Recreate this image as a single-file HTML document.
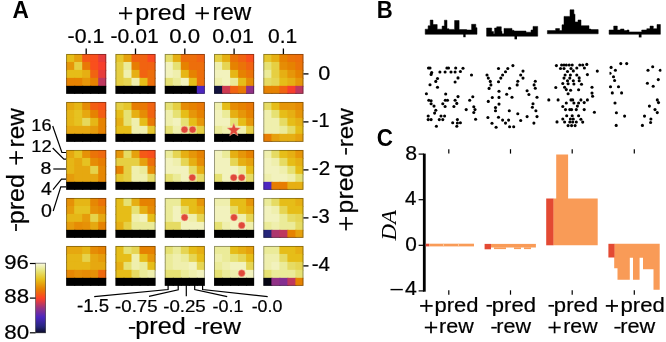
<!DOCTYPE html>
<html><head><meta charset="utf-8"><style>html,body{margin:0;padding:0;background:#fff;width:666px;height:342px;overflow:hidden}svg{display:block;will-change:transform}</style></head>
<body>
<svg width="666" height="342" viewBox="0 0 666 342" shape-rendering="auto">
<rect width="666" height="342" fill="#fff"/>
<rect x="66.20" y="54.00" width="9.00" height="8.96" fill="#e6bd18"/>
<rect x="74.20" y="54.00" width="9.00" height="8.96" fill="#e6a10d"/>
<rect x="82.20" y="54.00" width="9.00" height="8.96" fill="#f55917"/>
<rect x="90.20" y="54.00" width="9.00" height="8.96" fill="#f94f1d"/>
<rect x="98.20" y="54.00" width="8.00" height="8.96" fill="#e73d3c"/>
<rect x="66.20" y="61.96" width="9.00" height="8.96" fill="#e69609"/>
<rect x="74.20" y="61.96" width="9.00" height="8.96" fill="#e6cf42"/>
<rect x="82.20" y="61.96" width="9.00" height="8.96" fill="#e97805"/>
<rect x="90.20" y="61.96" width="9.00" height="8.96" fill="#f94f1d"/>
<rect x="98.20" y="61.96" width="8.00" height="8.96" fill="#f73f2d"/>
<rect x="66.20" y="69.92" width="9.00" height="8.96" fill="#e6bd18"/>
<rect x="74.20" y="69.92" width="9.00" height="8.96" fill="#e6bd18"/>
<rect x="82.20" y="69.92" width="9.00" height="8.96" fill="#e6af13"/>
<rect x="90.20" y="69.92" width="9.00" height="8.96" fill="#f16311"/>
<rect x="98.20" y="69.92" width="8.00" height="8.96" fill="#e73d3c"/>
<rect x="66.20" y="77.88" width="9.00" height="8.96" fill="#e68201"/>
<rect x="74.20" y="77.88" width="9.00" height="8.96" fill="#e68201"/>
<rect x="82.20" y="77.88" width="9.00" height="8.96" fill="#e69609"/>
<rect x="90.20" y="77.88" width="9.00" height="8.96" fill="#e68201"/>
<rect x="98.20" y="77.88" width="8.00" height="8.96" fill="#be385f"/>
<rect x="66.20" y="85.84" width="9.00" height="7.96" fill="#000"/>
<rect x="74.20" y="85.84" width="9.00" height="7.96" fill="#000"/>
<rect x="82.20" y="85.84" width="9.00" height="7.96" fill="#000"/>
<rect x="90.20" y="85.84" width="9.00" height="7.96" fill="#000"/>
<rect x="98.20" y="85.84" width="8.00" height="7.96" fill="#000"/>
<rect x="66.60" y="54.40" width="39.20" height="39.00" fill="none" stroke="#000" stroke-opacity="0.4" stroke-width="0.9"/>
<rect x="115.50" y="54.00" width="9.00" height="8.96" fill="#e6c62c"/>
<rect x="123.50" y="54.00" width="9.00" height="8.96" fill="#e6a10d"/>
<rect x="131.50" y="54.00" width="9.00" height="8.96" fill="#f16311"/>
<rect x="139.50" y="54.00" width="9.00" height="8.96" fill="#f16311"/>
<rect x="147.50" y="54.00" width="8.00" height="8.96" fill="#fb4a20"/>
<rect x="115.50" y="61.96" width="9.00" height="8.96" fill="#e6cf42"/>
<rect x="123.50" y="61.96" width="9.00" height="8.96" fill="#ebeb99"/>
<rect x="131.50" y="61.96" width="9.00" height="8.96" fill="#e77d02"/>
<rect x="139.50" y="61.96" width="9.00" height="8.96" fill="#f16311"/>
<rect x="147.50" y="61.96" width="8.00" height="8.96" fill="#f16311"/>
<rect x="115.50" y="69.92" width="9.00" height="8.96" fill="#e6cf42"/>
<rect x="123.50" y="69.92" width="9.00" height="8.96" fill="#efefad"/>
<rect x="131.50" y="69.92" width="9.00" height="8.96" fill="#e6af13"/>
<rect x="139.50" y="69.92" width="9.00" height="8.96" fill="#f16311"/>
<rect x="147.50" y="69.92" width="8.00" height="8.96" fill="#ed6e0b"/>
<rect x="115.50" y="77.88" width="9.00" height="8.96" fill="#e6cf42"/>
<rect x="123.50" y="77.88" width="9.00" height="8.96" fill="#e6d553"/>
<rect x="131.50" y="77.88" width="9.00" height="8.96" fill="#efefad"/>
<rect x="139.50" y="77.88" width="9.00" height="8.96" fill="#e6bd18"/>
<rect x="147.50" y="77.88" width="8.00" height="8.96" fill="#ed6e0b"/>
<rect x="115.50" y="85.84" width="9.00" height="7.96" fill="#000"/>
<rect x="123.50" y="85.84" width="9.00" height="7.96" fill="#000"/>
<rect x="131.50" y="85.84" width="9.00" height="7.96" fill="#000"/>
<rect x="139.50" y="85.84" width="9.00" height="7.96" fill="#000"/>
<rect x="147.50" y="85.84" width="8.00" height="7.96" fill="#000"/>
<rect x="115.90" y="54.40" width="39.20" height="39.00" fill="none" stroke="#000" stroke-opacity="0.4" stroke-width="0.9"/>
<rect x="164.80" y="54.00" width="9.00" height="8.96" fill="#e6de6b"/>
<rect x="172.80" y="54.00" width="9.00" height="8.96" fill="#e6af13"/>
<rect x="180.80" y="54.00" width="9.00" height="8.96" fill="#ed6e0b"/>
<rect x="188.80" y="54.00" width="9.00" height="8.96" fill="#ed6e0b"/>
<rect x="196.80" y="54.00" width="8.00" height="8.96" fill="#f16311"/>
<rect x="164.80" y="61.96" width="9.00" height="8.96" fill="#f2f2bd"/>
<rect x="172.80" y="61.96" width="9.00" height="8.96" fill="#e6e173"/>
<rect x="180.80" y="61.96" width="9.00" height="8.96" fill="#e68201"/>
<rect x="188.80" y="61.96" width="9.00" height="8.96" fill="#ed6e0b"/>
<rect x="196.80" y="61.96" width="8.00" height="8.96" fill="#ed6e0b"/>
<rect x="164.80" y="69.92" width="9.00" height="8.96" fill="#f2f2bd"/>
<rect x="172.80" y="69.92" width="9.00" height="8.96" fill="#efefad"/>
<rect x="180.80" y="69.92" width="9.00" height="8.96" fill="#e6b616"/>
<rect x="188.80" y="69.92" width="9.00" height="8.96" fill="#e68201"/>
<rect x="196.80" y="69.92" width="8.00" height="8.96" fill="#ed6e0b"/>
<rect x="164.80" y="77.88" width="9.00" height="8.96" fill="#e6e173"/>
<rect x="172.80" y="77.88" width="9.00" height="8.96" fill="#ebeb99"/>
<rect x="180.80" y="77.88" width="9.00" height="8.96" fill="#f2f2bd"/>
<rect x="188.80" y="77.88" width="9.00" height="8.96" fill="#e6bd18"/>
<rect x="196.80" y="77.88" width="8.00" height="8.96" fill="#ed6e0b"/>
<rect x="164.80" y="85.84" width="9.00" height="7.96" fill="#000"/>
<rect x="172.80" y="85.84" width="9.00" height="7.96" fill="#000"/>
<rect x="180.80" y="85.84" width="9.00" height="7.96" fill="#000"/>
<rect x="188.80" y="85.84" width="9.00" height="7.96" fill="#000"/>
<rect x="196.80" y="85.84" width="8.00" height="7.96" fill="#4c26bf"/>
<rect x="165.20" y="54.40" width="39.20" height="39.00" fill="none" stroke="#000" stroke-opacity="0.4" stroke-width="0.9"/>
<rect x="214.10" y="54.00" width="9.00" height="8.96" fill="#e6cf42"/>
<rect x="222.10" y="54.00" width="9.00" height="8.96" fill="#e6af13"/>
<rect x="230.10" y="54.00" width="9.00" height="8.96" fill="#eb7308"/>
<rect x="238.10" y="54.00" width="9.00" height="8.96" fill="#f16311"/>
<rect x="246.10" y="54.00" width="8.00" height="8.96" fill="#f94f1d"/>
<rect x="214.10" y="61.96" width="9.00" height="8.96" fill="#efefad"/>
<rect x="222.10" y="61.96" width="9.00" height="8.96" fill="#e6d553"/>
<rect x="230.10" y="61.96" width="9.00" height="8.96" fill="#e68201"/>
<rect x="238.10" y="61.96" width="9.00" height="8.96" fill="#eb7308"/>
<rect x="246.10" y="61.96" width="8.00" height="8.96" fill="#f16311"/>
<rect x="214.10" y="69.92" width="9.00" height="8.96" fill="#f2f2bd"/>
<rect x="222.10" y="69.92" width="9.00" height="8.96" fill="#f2f2bd"/>
<rect x="230.10" y="69.92" width="9.00" height="8.96" fill="#e6b616"/>
<rect x="238.10" y="69.92" width="9.00" height="8.96" fill="#e68201"/>
<rect x="246.10" y="69.92" width="8.00" height="8.96" fill="#eb7308"/>
<rect x="214.10" y="77.88" width="9.00" height="8.96" fill="#efefad"/>
<rect x="222.10" y="77.88" width="9.00" height="8.96" fill="#f2f2bd"/>
<rect x="230.10" y="77.88" width="9.00" height="8.96" fill="#ebeb99"/>
<rect x="238.10" y="77.88" width="9.00" height="8.96" fill="#e6bd18"/>
<rect x="246.10" y="77.88" width="8.00" height="8.96" fill="#e68c05"/>
<rect x="214.10" y="85.84" width="9.00" height="7.96" fill="#12123d"/>
<rect x="222.10" y="85.84" width="9.00" height="7.96" fill="#ce3a51"/>
<rect x="230.10" y="85.84" width="9.00" height="7.96" fill="#f16311"/>
<rect x="238.10" y="85.84" width="9.00" height="7.96" fill="#e97805"/>
<rect x="246.10" y="85.84" width="8.00" height="7.96" fill="#903187"/>
<rect x="214.50" y="54.40" width="39.20" height="39.00" fill="none" stroke="#000" stroke-opacity="0.4" stroke-width="0.9"/>
<rect x="263.40" y="54.00" width="9.00" height="8.96" fill="#e6c62c"/>
<rect x="271.40" y="54.00" width="9.00" height="8.96" fill="#e6af13"/>
<rect x="279.40" y="54.00" width="9.00" height="8.96" fill="#e68201"/>
<rect x="287.40" y="54.00" width="9.00" height="8.96" fill="#eb7308"/>
<rect x="295.40" y="54.00" width="8.00" height="8.96" fill="#ed6e0b"/>
<rect x="263.40" y="61.96" width="9.00" height="8.96" fill="#e6e173"/>
<rect x="271.40" y="61.96" width="9.00" height="8.96" fill="#e6cf42"/>
<rect x="279.40" y="61.96" width="9.00" height="8.96" fill="#e68c05"/>
<rect x="287.40" y="61.96" width="9.00" height="8.96" fill="#e68201"/>
<rect x="295.40" y="61.96" width="8.00" height="8.96" fill="#eb7308"/>
<rect x="263.40" y="69.92" width="9.00" height="8.96" fill="#ebeb99"/>
<rect x="271.40" y="69.92" width="9.00" height="8.96" fill="#e6cf42"/>
<rect x="279.40" y="69.92" width="9.00" height="8.96" fill="#e6af13"/>
<rect x="287.40" y="69.92" width="9.00" height="8.96" fill="#e69609"/>
<rect x="295.40" y="69.92" width="8.00" height="8.96" fill="#e68201"/>
<rect x="263.40" y="77.88" width="9.00" height="8.96" fill="#e6db63"/>
<rect x="271.40" y="77.88" width="9.00" height="8.96" fill="#e6d553"/>
<rect x="279.40" y="77.88" width="9.00" height="8.96" fill="#e6bd18"/>
<rect x="287.40" y="77.88" width="9.00" height="8.96" fill="#e6af13"/>
<rect x="295.40" y="77.88" width="8.00" height="8.96" fill="#e69609"/>
<rect x="263.40" y="85.84" width="9.00" height="7.96" fill="#e68201"/>
<rect x="271.40" y="85.84" width="9.00" height="7.96" fill="#e68201"/>
<rect x="279.40" y="85.84" width="9.00" height="7.96" fill="#f16311"/>
<rect x="287.40" y="85.84" width="9.00" height="7.96" fill="#f73f2d"/>
<rect x="295.40" y="85.84" width="8.00" height="7.96" fill="#be385f"/>
<rect x="263.80" y="54.40" width="39.20" height="39.00" fill="none" stroke="#000" stroke-opacity="0.4" stroke-width="0.9"/>
<rect x="66.20" y="102.00" width="9.00" height="8.96" fill="#e6a810"/>
<rect x="74.20" y="102.00" width="9.00" height="8.96" fill="#e6b616"/>
<rect x="82.20" y="102.00" width="9.00" height="8.96" fill="#e68c05"/>
<rect x="90.20" y="102.00" width="9.00" height="8.96" fill="#f35e14"/>
<rect x="98.20" y="102.00" width="8.00" height="8.96" fill="#f7541a"/>
<rect x="66.20" y="109.96" width="9.00" height="8.96" fill="#e6b616"/>
<rect x="74.20" y="109.96" width="9.00" height="8.96" fill="#e6c221"/>
<rect x="82.20" y="109.96" width="9.00" height="8.96" fill="#e6a810"/>
<rect x="90.20" y="109.96" width="9.00" height="8.96" fill="#e68201"/>
<rect x="98.20" y="109.96" width="8.00" height="8.96" fill="#f35e14"/>
<rect x="66.20" y="117.92" width="9.00" height="8.96" fill="#e6b616"/>
<rect x="74.20" y="117.92" width="9.00" height="8.96" fill="#e6c221"/>
<rect x="82.20" y="117.92" width="9.00" height="8.96" fill="#e6d85b"/>
<rect x="90.20" y="117.92" width="9.00" height="8.96" fill="#e6b616"/>
<rect x="98.20" y="117.92" width="8.00" height="8.96" fill="#e68201"/>
<rect x="66.20" y="125.88" width="9.00" height="8.96" fill="#e6a810"/>
<rect x="74.20" y="125.88" width="9.00" height="8.96" fill="#e6a810"/>
<rect x="82.20" y="125.88" width="9.00" height="8.96" fill="#e6a810"/>
<rect x="90.20" y="125.88" width="9.00" height="8.96" fill="#e69c0b"/>
<rect x="98.20" y="125.88" width="8.00" height="8.96" fill="#e68201"/>
<rect x="66.20" y="133.84" width="9.00" height="7.96" fill="#000"/>
<rect x="74.20" y="133.84" width="9.00" height="7.96" fill="#000"/>
<rect x="82.20" y="133.84" width="9.00" height="7.96" fill="#000"/>
<rect x="90.20" y="133.84" width="9.00" height="7.96" fill="#000"/>
<rect x="98.20" y="133.84" width="8.00" height="7.96" fill="#000"/>
<rect x="66.60" y="102.40" width="39.20" height="39.00" fill="none" stroke="#000" stroke-opacity="0.4" stroke-width="0.9"/>
<rect x="115.50" y="102.00" width="9.00" height="8.96" fill="#e6cf42"/>
<rect x="123.50" y="102.00" width="9.00" height="8.96" fill="#e6c62c"/>
<rect x="131.50" y="102.00" width="9.00" height="8.96" fill="#e77d02"/>
<rect x="139.50" y="102.00" width="9.00" height="8.96" fill="#e97805"/>
<rect x="147.50" y="102.00" width="8.00" height="8.96" fill="#f16311"/>
<rect x="115.50" y="109.96" width="9.00" height="8.96" fill="#e6bd18"/>
<rect x="123.50" y="109.96" width="9.00" height="8.96" fill="#e6e173"/>
<rect x="131.50" y="109.96" width="9.00" height="8.96" fill="#e6af13"/>
<rect x="139.50" y="109.96" width="9.00" height="8.96" fill="#e68c05"/>
<rect x="147.50" y="109.96" width="8.00" height="8.96" fill="#f16311"/>
<rect x="115.50" y="117.92" width="9.00" height="8.96" fill="#e6af13"/>
<rect x="123.50" y="117.92" width="9.00" height="8.96" fill="#e6e173"/>
<rect x="131.50" y="117.92" width="9.00" height="8.96" fill="#efefad"/>
<rect x="139.50" y="117.92" width="9.00" height="8.96" fill="#e6bd18"/>
<rect x="147.50" y="117.92" width="8.00" height="8.96" fill="#e97805"/>
<rect x="115.50" y="125.88" width="9.00" height="8.96" fill="#e6bd18"/>
<rect x="123.50" y="125.88" width="9.00" height="8.96" fill="#e6bd18"/>
<rect x="131.50" y="125.88" width="9.00" height="8.96" fill="#efefad"/>
<rect x="139.50" y="125.88" width="9.00" height="8.96" fill="#efefad"/>
<rect x="147.50" y="125.88" width="8.00" height="8.96" fill="#e6c62c"/>
<rect x="115.50" y="133.84" width="9.00" height="7.96" fill="#000"/>
<rect x="123.50" y="133.84" width="9.00" height="7.96" fill="#000"/>
<rect x="131.50" y="133.84" width="9.00" height="7.96" fill="#000"/>
<rect x="139.50" y="133.84" width="9.00" height="7.96" fill="#000"/>
<rect x="147.50" y="133.84" width="8.00" height="7.96" fill="#000"/>
<rect x="115.90" y="102.40" width="39.20" height="39.00" fill="none" stroke="#000" stroke-opacity="0.4" stroke-width="0.9"/>
<rect x="164.80" y="102.00" width="9.00" height="8.96" fill="#e6e173"/>
<rect x="172.80" y="102.00" width="9.00" height="8.96" fill="#e6cf42"/>
<rect x="180.80" y="102.00" width="9.00" height="8.96" fill="#e68c05"/>
<rect x="188.80" y="102.00" width="9.00" height="8.96" fill="#e68201"/>
<rect x="196.80" y="102.00" width="8.00" height="8.96" fill="#e97805"/>
<rect x="164.80" y="109.96" width="9.00" height="8.96" fill="#efefad"/>
<rect x="172.80" y="109.96" width="9.00" height="8.96" fill="#e6e173"/>
<rect x="180.80" y="109.96" width="9.00" height="8.96" fill="#e6bd18"/>
<rect x="188.80" y="109.96" width="9.00" height="8.96" fill="#e69609"/>
<rect x="196.80" y="109.96" width="8.00" height="8.96" fill="#e68201"/>
<rect x="164.80" y="117.92" width="9.00" height="8.96" fill="#efefad"/>
<rect x="172.80" y="117.92" width="9.00" height="8.96" fill="#f2f2bd"/>
<rect x="180.80" y="117.92" width="9.00" height="8.96" fill="#e6e173"/>
<rect x="188.80" y="117.92" width="9.00" height="8.96" fill="#e6bd18"/>
<rect x="196.80" y="117.92" width="8.00" height="8.96" fill="#e69609"/>
<rect x="164.80" y="125.88" width="9.00" height="8.96" fill="#e6e173"/>
<rect x="172.80" y="125.88" width="9.00" height="8.96" fill="#efefad"/>
<rect x="180.80" y="125.88" width="9.00" height="8.96" fill="#ebeb99"/>
<rect x="188.80" y="125.88" width="9.00" height="8.96" fill="#e6e173"/>
<rect x="196.80" y="125.88" width="8.00" height="8.96" fill="#e6cf42"/>
<rect x="164.80" y="133.84" width="9.00" height="7.96" fill="#000"/>
<rect x="172.80" y="133.84" width="9.00" height="7.96" fill="#000"/>
<rect x="180.80" y="133.84" width="9.00" height="7.96" fill="#000"/>
<rect x="188.80" y="133.84" width="9.00" height="7.96" fill="#000"/>
<rect x="196.80" y="133.84" width="8.00" height="7.96" fill="#000"/>
<rect x="165.20" y="102.40" width="39.20" height="39.00" fill="none" stroke="#000" stroke-opacity="0.4" stroke-width="0.9"/>
<rect x="214.10" y="102.00" width="9.00" height="8.96" fill="#efefad"/>
<rect x="222.10" y="102.00" width="9.00" height="8.96" fill="#e6bd18"/>
<rect x="230.10" y="102.00" width="9.00" height="8.96" fill="#e68c05"/>
<rect x="238.10" y="102.00" width="9.00" height="8.96" fill="#e68201"/>
<rect x="246.10" y="102.00" width="8.00" height="8.96" fill="#e97805"/>
<rect x="214.10" y="109.96" width="9.00" height="8.96" fill="#f2f2bd"/>
<rect x="222.10" y="109.96" width="9.00" height="8.96" fill="#ebeb99"/>
<rect x="230.10" y="109.96" width="9.00" height="8.96" fill="#e6af13"/>
<rect x="238.10" y="109.96" width="9.00" height="8.96" fill="#e69609"/>
<rect x="246.10" y="109.96" width="8.00" height="8.96" fill="#e68201"/>
<rect x="214.10" y="117.92" width="9.00" height="8.96" fill="#f2f2bd"/>
<rect x="222.10" y="117.92" width="9.00" height="8.96" fill="#f2f2bd"/>
<rect x="230.10" y="117.92" width="9.00" height="8.96" fill="#e6e173"/>
<rect x="238.10" y="117.92" width="9.00" height="8.96" fill="#e6bd18"/>
<rect x="246.10" y="117.92" width="8.00" height="8.96" fill="#e69609"/>
<rect x="214.10" y="125.88" width="9.00" height="8.96" fill="#ebeb99"/>
<rect x="222.10" y="125.88" width="9.00" height="8.96" fill="#efefad"/>
<rect x="230.10" y="125.88" width="9.00" height="8.96" fill="#efefad"/>
<rect x="238.10" y="125.88" width="9.00" height="8.96" fill="#efefad"/>
<rect x="246.10" y="125.88" width="8.00" height="8.96" fill="#e6cf42"/>
<rect x="214.10" y="133.84" width="9.00" height="7.96" fill="#000"/>
<rect x="222.10" y="133.84" width="9.00" height="7.96" fill="#000"/>
<rect x="230.10" y="133.84" width="9.00" height="7.96" fill="#000"/>
<rect x="238.10" y="133.84" width="9.00" height="7.96" fill="#000"/>
<rect x="246.10" y="133.84" width="8.00" height="7.96" fill="#000"/>
<rect x="214.50" y="102.40" width="39.20" height="39.00" fill="none" stroke="#000" stroke-opacity="0.4" stroke-width="0.9"/>
<rect x="263.40" y="102.00" width="9.00" height="8.96" fill="#e6db63"/>
<rect x="271.40" y="102.00" width="9.00" height="8.96" fill="#e6bd18"/>
<rect x="279.40" y="102.00" width="9.00" height="8.96" fill="#e69609"/>
<rect x="287.40" y="102.00" width="9.00" height="8.96" fill="#e69609"/>
<rect x="295.40" y="102.00" width="8.00" height="8.96" fill="#e68c05"/>
<rect x="263.40" y="109.96" width="9.00" height="8.96" fill="#efefad"/>
<rect x="271.40" y="109.96" width="9.00" height="8.96" fill="#e6e173"/>
<rect x="279.40" y="109.96" width="9.00" height="8.96" fill="#e6bd18"/>
<rect x="287.40" y="109.96" width="9.00" height="8.96" fill="#e6af13"/>
<rect x="295.40" y="109.96" width="8.00" height="8.96" fill="#e69609"/>
<rect x="263.40" y="117.92" width="9.00" height="8.96" fill="#efefad"/>
<rect x="271.40" y="117.92" width="9.00" height="8.96" fill="#efefad"/>
<rect x="279.40" y="117.92" width="9.00" height="8.96" fill="#e6db63"/>
<rect x="287.40" y="117.92" width="9.00" height="8.96" fill="#e6bd18"/>
<rect x="295.40" y="117.92" width="8.00" height="8.96" fill="#e6af13"/>
<rect x="263.40" y="125.88" width="9.00" height="8.96" fill="#efefad"/>
<rect x="271.40" y="125.88" width="9.00" height="8.96" fill="#efefad"/>
<rect x="279.40" y="125.88" width="9.00" height="8.96" fill="#ebeb99"/>
<rect x="287.40" y="125.88" width="9.00" height="8.96" fill="#e6db63"/>
<rect x="295.40" y="125.88" width="8.00" height="8.96" fill="#e6bd18"/>
<rect x="263.40" y="133.84" width="9.00" height="7.96" fill="#e77d02"/>
<rect x="271.40" y="133.84" width="9.00" height="7.96" fill="#e6a10d"/>
<rect x="279.40" y="133.84" width="9.00" height="7.96" fill="#e6af13"/>
<rect x="287.40" y="133.84" width="9.00" height="7.96" fill="#e6af13"/>
<rect x="295.40" y="133.84" width="8.00" height="7.96" fill="#e6a10d"/>
<rect x="263.80" y="102.40" width="39.20" height="39.00" fill="none" stroke="#000" stroke-opacity="0.4" stroke-width="0.9"/>
<rect x="66.20" y="150.00" width="9.00" height="8.96" fill="#e6a810"/>
<rect x="74.20" y="150.00" width="9.00" height="8.96" fill="#e6c221"/>
<rect x="82.20" y="150.00" width="9.00" height="8.96" fill="#e69107"/>
<rect x="90.20" y="150.00" width="9.00" height="8.96" fill="#eb7308"/>
<rect x="98.20" y="150.00" width="8.00" height="8.96" fill="#ef690e"/>
<rect x="66.20" y="157.96" width="9.00" height="8.96" fill="#e6b616"/>
<rect x="74.20" y="157.96" width="9.00" height="8.96" fill="#e6a810"/>
<rect x="82.20" y="157.96" width="9.00" height="8.96" fill="#e6c221"/>
<rect x="90.20" y="157.96" width="9.00" height="8.96" fill="#e68c05"/>
<rect x="98.20" y="157.96" width="8.00" height="8.96" fill="#e77d02"/>
<rect x="66.20" y="165.92" width="9.00" height="8.96" fill="#e6b616"/>
<rect x="74.20" y="165.92" width="9.00" height="8.96" fill="#e6a810"/>
<rect x="82.20" y="165.92" width="9.00" height="8.96" fill="#e6a810"/>
<rect x="90.20" y="165.92" width="9.00" height="8.96" fill="#e6d24a"/>
<rect x="98.20" y="165.92" width="8.00" height="8.96" fill="#e68703"/>
<rect x="66.20" y="173.88" width="9.00" height="8.96" fill="#e69c0b"/>
<rect x="74.20" y="173.88" width="9.00" height="8.96" fill="#e6a810"/>
<rect x="82.20" y="173.88" width="9.00" height="8.96" fill="#e6a810"/>
<rect x="90.20" y="173.88" width="9.00" height="8.96" fill="#e6a810"/>
<rect x="98.20" y="173.88" width="8.00" height="8.96" fill="#e68703"/>
<rect x="66.20" y="181.84" width="9.00" height="7.96" fill="#000"/>
<rect x="74.20" y="181.84" width="9.00" height="7.96" fill="#000"/>
<rect x="82.20" y="181.84" width="9.00" height="7.96" fill="#000"/>
<rect x="90.20" y="181.84" width="9.00" height="7.96" fill="#000"/>
<rect x="98.20" y="181.84" width="8.00" height="7.96" fill="#000"/>
<rect x="66.60" y="150.40" width="39.20" height="39.00" fill="none" stroke="#000" stroke-opacity="0.4" stroke-width="0.9"/>
<rect x="115.50" y="150.00" width="9.00" height="8.96" fill="#e69609"/>
<rect x="123.50" y="150.00" width="9.00" height="8.96" fill="#e6db63"/>
<rect x="131.50" y="150.00" width="9.00" height="8.96" fill="#e6a10d"/>
<rect x="139.50" y="150.00" width="9.00" height="8.96" fill="#f55917"/>
<rect x="147.50" y="150.00" width="8.00" height="8.96" fill="#f94f1d"/>
<rect x="115.50" y="157.96" width="9.00" height="8.96" fill="#e6cf42"/>
<rect x="123.50" y="157.96" width="9.00" height="8.96" fill="#e6cf42"/>
<rect x="131.50" y="157.96" width="9.00" height="8.96" fill="#e6cf42"/>
<rect x="139.50" y="157.96" width="9.00" height="8.96" fill="#e6a10d"/>
<rect x="147.50" y="157.96" width="8.00" height="8.96" fill="#ed6e0b"/>
<rect x="115.50" y="165.92" width="9.00" height="8.96" fill="#e68201"/>
<rect x="123.50" y="165.92" width="9.00" height="8.96" fill="#e6cf42"/>
<rect x="131.50" y="165.92" width="9.00" height="8.96" fill="#efefad"/>
<rect x="139.50" y="165.92" width="9.00" height="8.96" fill="#ebeb99"/>
<rect x="147.50" y="165.92" width="8.00" height="8.96" fill="#e68c05"/>
<rect x="115.50" y="173.88" width="9.00" height="8.96" fill="#e6c62c"/>
<rect x="123.50" y="173.88" width="9.00" height="8.96" fill="#e6cf42"/>
<rect x="131.50" y="173.88" width="9.00" height="8.96" fill="#efefad"/>
<rect x="139.50" y="173.88" width="9.00" height="8.96" fill="#efefad"/>
<rect x="147.50" y="173.88" width="8.00" height="8.96" fill="#e6db63"/>
<rect x="115.50" y="181.84" width="9.00" height="7.96" fill="#000"/>
<rect x="123.50" y="181.84" width="9.00" height="7.96" fill="#000"/>
<rect x="131.50" y="181.84" width="9.00" height="7.96" fill="#000"/>
<rect x="139.50" y="181.84" width="9.00" height="7.96" fill="#000"/>
<rect x="147.50" y="181.84" width="8.00" height="7.96" fill="#000"/>
<rect x="115.90" y="150.40" width="39.20" height="39.00" fill="none" stroke="#000" stroke-opacity="0.4" stroke-width="0.9"/>
<rect x="164.80" y="150.00" width="9.00" height="8.96" fill="#ebeb99"/>
<rect x="172.80" y="150.00" width="9.00" height="8.96" fill="#e6d553"/>
<rect x="180.80" y="150.00" width="9.00" height="8.96" fill="#e6af13"/>
<rect x="188.80" y="150.00" width="9.00" height="8.96" fill="#e69609"/>
<rect x="196.80" y="150.00" width="8.00" height="8.96" fill="#e68201"/>
<rect x="164.80" y="157.96" width="9.00" height="8.96" fill="#f2f2bd"/>
<rect x="172.80" y="157.96" width="9.00" height="8.96" fill="#efefad"/>
<rect x="180.80" y="157.96" width="9.00" height="8.96" fill="#e6d553"/>
<rect x="188.80" y="157.96" width="9.00" height="8.96" fill="#e6af13"/>
<rect x="196.80" y="157.96" width="8.00" height="8.96" fill="#e68c05"/>
<rect x="164.80" y="165.92" width="9.00" height="8.96" fill="#f2f2bd"/>
<rect x="172.80" y="165.92" width="9.00" height="8.96" fill="#f2f2bd"/>
<rect x="180.80" y="165.92" width="9.00" height="8.96" fill="#f2f2bd"/>
<rect x="188.80" y="165.92" width="9.00" height="8.96" fill="#e6db63"/>
<rect x="196.80" y="165.92" width="8.00" height="8.96" fill="#e6af13"/>
<rect x="164.80" y="173.88" width="9.00" height="8.96" fill="#e6e173"/>
<rect x="172.80" y="173.88" width="9.00" height="8.96" fill="#ebeb99"/>
<rect x="180.80" y="173.88" width="9.00" height="8.96" fill="#f2f2bd"/>
<rect x="188.80" y="173.88" width="9.00" height="8.96" fill="#ebeb99"/>
<rect x="196.80" y="173.88" width="8.00" height="8.96" fill="#e6db63"/>
<rect x="164.80" y="181.84" width="9.00" height="7.96" fill="#000"/>
<rect x="172.80" y="181.84" width="9.00" height="7.96" fill="#000"/>
<rect x="180.80" y="181.84" width="9.00" height="7.96" fill="#000"/>
<rect x="188.80" y="181.84" width="9.00" height="7.96" fill="#000"/>
<rect x="196.80" y="181.84" width="8.00" height="7.96" fill="#000"/>
<rect x="165.20" y="150.40" width="39.20" height="39.00" fill="none" stroke="#000" stroke-opacity="0.4" stroke-width="0.9"/>
<rect x="214.10" y="150.00" width="9.00" height="8.96" fill="#f2f2bd"/>
<rect x="222.10" y="150.00" width="9.00" height="8.96" fill="#ebeb99"/>
<rect x="230.10" y="150.00" width="9.00" height="8.96" fill="#e6af13"/>
<rect x="238.10" y="150.00" width="9.00" height="8.96" fill="#e69609"/>
<rect x="246.10" y="150.00" width="8.00" height="8.96" fill="#e68201"/>
<rect x="214.10" y="157.96" width="9.00" height="8.96" fill="#f2f2bd"/>
<rect x="222.10" y="157.96" width="9.00" height="8.96" fill="#f2f2bd"/>
<rect x="230.10" y="157.96" width="9.00" height="8.96" fill="#e6d553"/>
<rect x="238.10" y="157.96" width="9.00" height="8.96" fill="#e6af13"/>
<rect x="246.10" y="157.96" width="8.00" height="8.96" fill="#e6a10d"/>
<rect x="214.10" y="165.92" width="9.00" height="8.96" fill="#f2f2bd"/>
<rect x="222.10" y="165.92" width="9.00" height="8.96" fill="#f2f2bd"/>
<rect x="230.10" y="165.92" width="9.00" height="8.96" fill="#f2f2bd"/>
<rect x="238.10" y="165.92" width="9.00" height="8.96" fill="#ebeb99"/>
<rect x="246.10" y="165.92" width="8.00" height="8.96" fill="#e6bd18"/>
<rect x="214.10" y="173.88" width="9.00" height="8.96" fill="#e6e173"/>
<rect x="222.10" y="173.88" width="9.00" height="8.96" fill="#f2f2bd"/>
<rect x="230.10" y="173.88" width="9.00" height="8.96" fill="#f2f2bd"/>
<rect x="238.10" y="173.88" width="9.00" height="8.96" fill="#efefad"/>
<rect x="246.10" y="173.88" width="8.00" height="8.96" fill="#e6db63"/>
<rect x="214.10" y="181.84" width="9.00" height="7.96" fill="#000"/>
<rect x="222.10" y="181.84" width="9.00" height="7.96" fill="#000"/>
<rect x="230.10" y="181.84" width="9.00" height="7.96" fill="#000"/>
<rect x="238.10" y="181.84" width="9.00" height="7.96" fill="#000"/>
<rect x="246.10" y="181.84" width="8.00" height="7.96" fill="#000"/>
<rect x="214.50" y="150.40" width="39.20" height="39.00" fill="none" stroke="#000" stroke-opacity="0.4" stroke-width="0.9"/>
<rect x="263.40" y="150.00" width="9.00" height="8.96" fill="#efefad"/>
<rect x="271.40" y="150.00" width="9.00" height="8.96" fill="#e6db63"/>
<rect x="279.40" y="150.00" width="9.00" height="8.96" fill="#e6bd18"/>
<rect x="287.40" y="150.00" width="9.00" height="8.96" fill="#e6af13"/>
<rect x="295.40" y="150.00" width="8.00" height="8.96" fill="#e69609"/>
<rect x="263.40" y="157.96" width="9.00" height="8.96" fill="#f2f2bd"/>
<rect x="271.40" y="157.96" width="9.00" height="8.96" fill="#efefad"/>
<rect x="279.40" y="157.96" width="9.00" height="8.96" fill="#e6db63"/>
<rect x="287.40" y="157.96" width="9.00" height="8.96" fill="#e6bd18"/>
<rect x="295.40" y="157.96" width="8.00" height="8.96" fill="#e6af13"/>
<rect x="263.40" y="165.92" width="9.00" height="8.96" fill="#f2f2bd"/>
<rect x="271.40" y="165.92" width="9.00" height="8.96" fill="#f2f2bd"/>
<rect x="279.40" y="165.92" width="9.00" height="8.96" fill="#efefad"/>
<rect x="287.40" y="165.92" width="9.00" height="8.96" fill="#e6e173"/>
<rect x="295.40" y="165.92" width="8.00" height="8.96" fill="#e6bd18"/>
<rect x="263.40" y="173.88" width="9.00" height="8.96" fill="#efefad"/>
<rect x="271.40" y="173.88" width="9.00" height="8.96" fill="#f2f2bd"/>
<rect x="279.40" y="173.88" width="9.00" height="8.96" fill="#f2f2bd"/>
<rect x="287.40" y="173.88" width="9.00" height="8.96" fill="#efefad"/>
<rect x="295.40" y="173.88" width="8.00" height="8.96" fill="#e6e173"/>
<rect x="263.40" y="181.84" width="9.00" height="7.96" fill="#4c26bf"/>
<rect x="271.40" y="181.84" width="9.00" height="7.96" fill="#e77d02"/>
<rect x="279.40" y="181.84" width="9.00" height="7.96" fill="#e77d02"/>
<rect x="287.40" y="181.84" width="9.00" height="7.96" fill="#e6af13"/>
<rect x="295.40" y="181.84" width="8.00" height="7.96" fill="#e6af13"/>
<rect x="263.80" y="150.40" width="39.20" height="39.00" fill="none" stroke="#000" stroke-opacity="0.4" stroke-width="0.9"/>
<rect x="66.20" y="198.00" width="9.00" height="8.96" fill="#e69107"/>
<rect x="74.20" y="198.00" width="9.00" height="8.96" fill="#e6b616"/>
<rect x="82.20" y="198.00" width="9.00" height="8.96" fill="#e6b616"/>
<rect x="90.20" y="198.00" width="9.00" height="8.96" fill="#e68703"/>
<rect x="98.20" y="198.00" width="8.00" height="8.96" fill="#eb7308"/>
<rect x="66.20" y="205.96" width="9.00" height="8.96" fill="#e69c0b"/>
<rect x="74.20" y="205.96" width="9.00" height="8.96" fill="#e6c221"/>
<rect x="82.20" y="205.96" width="9.00" height="8.96" fill="#e6c221"/>
<rect x="90.20" y="205.96" width="9.00" height="8.96" fill="#e69107"/>
<rect x="98.20" y="205.96" width="8.00" height="8.96" fill="#e68703"/>
<rect x="66.20" y="213.92" width="9.00" height="8.96" fill="#e6b616"/>
<rect x="74.20" y="213.92" width="9.00" height="8.96" fill="#e6b616"/>
<rect x="82.20" y="213.92" width="9.00" height="8.96" fill="#e69c0b"/>
<rect x="90.20" y="213.92" width="9.00" height="8.96" fill="#e6d24a"/>
<rect x="98.20" y="213.92" width="8.00" height="8.96" fill="#e6a810"/>
<rect x="66.20" y="221.88" width="9.00" height="8.96" fill="#e69c0b"/>
<rect x="74.20" y="221.88" width="9.00" height="8.96" fill="#e68c05"/>
<rect x="82.20" y="221.88" width="9.00" height="8.96" fill="#e69107"/>
<rect x="90.20" y="221.88" width="9.00" height="8.96" fill="#e6a810"/>
<rect x="98.20" y="221.88" width="8.00" height="8.96" fill="#e68201"/>
<rect x="66.20" y="229.84" width="9.00" height="7.96" fill="#000"/>
<rect x="74.20" y="229.84" width="9.00" height="7.96" fill="#000"/>
<rect x="82.20" y="229.84" width="9.00" height="7.96" fill="#000"/>
<rect x="90.20" y="229.84" width="9.00" height="7.96" fill="#000"/>
<rect x="98.20" y="229.84" width="8.00" height="7.96" fill="#000"/>
<rect x="66.60" y="198.40" width="39.20" height="39.00" fill="none" stroke="#000" stroke-opacity="0.4" stroke-width="0.9"/>
<rect x="115.50" y="198.00" width="9.00" height="8.96" fill="#e6bd18"/>
<rect x="123.50" y="198.00" width="9.00" height="8.96" fill="#e6e173"/>
<rect x="131.50" y="198.00" width="9.00" height="8.96" fill="#e6af13"/>
<rect x="139.50" y="198.00" width="9.00" height="8.96" fill="#e68201"/>
<rect x="147.50" y="198.00" width="8.00" height="8.96" fill="#e68201"/>
<rect x="115.50" y="205.96" width="9.00" height="8.96" fill="#e6bd18"/>
<rect x="123.50" y="205.96" width="9.00" height="8.96" fill="#e6bd18"/>
<rect x="131.50" y="205.96" width="9.00" height="8.96" fill="#e6e173"/>
<rect x="139.50" y="205.96" width="9.00" height="8.96" fill="#e6af13"/>
<rect x="147.50" y="205.96" width="8.00" height="8.96" fill="#e68c05"/>
<rect x="115.50" y="213.92" width="9.00" height="8.96" fill="#e6bd18"/>
<rect x="123.50" y="213.92" width="9.00" height="8.96" fill="#e6bd18"/>
<rect x="131.50" y="213.92" width="9.00" height="8.96" fill="#efefad"/>
<rect x="139.50" y="213.92" width="9.00" height="8.96" fill="#f2f2bd"/>
<rect x="147.50" y="213.92" width="8.00" height="8.96" fill="#e6bd18"/>
<rect x="115.50" y="221.88" width="9.00" height="8.96" fill="#e6af13"/>
<rect x="123.50" y="221.88" width="9.00" height="8.96" fill="#e6cf42"/>
<rect x="131.50" y="221.88" width="9.00" height="8.96" fill="#ebeb99"/>
<rect x="139.50" y="221.88" width="9.00" height="8.96" fill="#ebeb99"/>
<rect x="147.50" y="221.88" width="8.00" height="8.96" fill="#ebeb99"/>
<rect x="115.50" y="229.84" width="9.00" height="7.96" fill="#000"/>
<rect x="123.50" y="229.84" width="9.00" height="7.96" fill="#000"/>
<rect x="131.50" y="229.84" width="9.00" height="7.96" fill="#000"/>
<rect x="139.50" y="229.84" width="9.00" height="7.96" fill="#000"/>
<rect x="147.50" y="229.84" width="8.00" height="7.96" fill="#000"/>
<rect x="115.90" y="198.40" width="39.20" height="39.00" fill="none" stroke="#000" stroke-opacity="0.4" stroke-width="0.9"/>
<rect x="164.80" y="198.00" width="9.00" height="8.96" fill="#ebeb99"/>
<rect x="172.80" y="198.00" width="9.00" height="8.96" fill="#ebeb99"/>
<rect x="180.80" y="198.00" width="9.00" height="8.96" fill="#e6bd18"/>
<rect x="188.80" y="198.00" width="9.00" height="8.96" fill="#e6bd18"/>
<rect x="196.80" y="198.00" width="8.00" height="8.96" fill="#e69609"/>
<rect x="164.80" y="205.96" width="9.00" height="8.96" fill="#ebeb99"/>
<rect x="172.80" y="205.96" width="9.00" height="8.96" fill="#f2f2bd"/>
<rect x="180.80" y="205.96" width="9.00" height="8.96" fill="#e6db63"/>
<rect x="188.80" y="205.96" width="9.00" height="8.96" fill="#e6bd18"/>
<rect x="196.80" y="205.96" width="8.00" height="8.96" fill="#e6af13"/>
<rect x="164.80" y="213.92" width="9.00" height="8.96" fill="#ebeb99"/>
<rect x="172.80" y="213.92" width="9.00" height="8.96" fill="#f2f2bd"/>
<rect x="180.80" y="213.92" width="9.00" height="8.96" fill="#f2f2bd"/>
<rect x="188.80" y="213.92" width="9.00" height="8.96" fill="#efefad"/>
<rect x="196.80" y="213.92" width="8.00" height="8.96" fill="#e6d553"/>
<rect x="164.80" y="221.88" width="9.00" height="8.96" fill="#e6db63"/>
<rect x="172.80" y="221.88" width="9.00" height="8.96" fill="#e6db63"/>
<rect x="180.80" y="221.88" width="9.00" height="8.96" fill="#f2f2bd"/>
<rect x="188.80" y="221.88" width="9.00" height="8.96" fill="#f2f2bd"/>
<rect x="196.80" y="221.88" width="8.00" height="8.96" fill="#f2f2bd"/>
<rect x="164.80" y="229.84" width="9.00" height="7.96" fill="#000"/>
<rect x="172.80" y="229.84" width="9.00" height="7.96" fill="#000"/>
<rect x="180.80" y="229.84" width="9.00" height="7.96" fill="#000"/>
<rect x="188.80" y="229.84" width="9.00" height="7.96" fill="#000"/>
<rect x="196.80" y="229.84" width="8.00" height="7.96" fill="#000"/>
<rect x="165.20" y="198.40" width="39.20" height="39.00" fill="none" stroke="#000" stroke-opacity="0.4" stroke-width="0.9"/>
<rect x="214.10" y="198.00" width="9.00" height="8.96" fill="#efefad"/>
<rect x="222.10" y="198.00" width="9.00" height="8.96" fill="#efefad"/>
<rect x="230.10" y="198.00" width="9.00" height="8.96" fill="#e6bd18"/>
<rect x="238.10" y="198.00" width="9.00" height="8.96" fill="#e6bd18"/>
<rect x="246.10" y="198.00" width="8.00" height="8.96" fill="#e69609"/>
<rect x="214.10" y="205.96" width="9.00" height="8.96" fill="#f2f2bd"/>
<rect x="222.10" y="205.96" width="9.00" height="8.96" fill="#f2f2bd"/>
<rect x="230.10" y="205.96" width="9.00" height="8.96" fill="#e6db63"/>
<rect x="238.10" y="205.96" width="9.00" height="8.96" fill="#e6bd18"/>
<rect x="246.10" y="205.96" width="8.00" height="8.96" fill="#e6af13"/>
<rect x="214.10" y="213.92" width="9.00" height="8.96" fill="#f2f2bd"/>
<rect x="222.10" y="213.92" width="9.00" height="8.96" fill="#f2f2bd"/>
<rect x="230.10" y="213.92" width="9.00" height="8.96" fill="#f2f2bd"/>
<rect x="238.10" y="213.92" width="9.00" height="8.96" fill="#efefad"/>
<rect x="246.10" y="213.92" width="8.00" height="8.96" fill="#e6d553"/>
<rect x="214.10" y="221.88" width="9.00" height="8.96" fill="#e6e173"/>
<rect x="222.10" y="221.88" width="9.00" height="8.96" fill="#efefad"/>
<rect x="230.10" y="221.88" width="9.00" height="8.96" fill="#f2f2bd"/>
<rect x="238.10" y="221.88" width="9.00" height="8.96" fill="#f2f2bd"/>
<rect x="246.10" y="221.88" width="8.00" height="8.96" fill="#efefad"/>
<rect x="214.10" y="229.84" width="9.00" height="7.96" fill="#000"/>
<rect x="222.10" y="229.84" width="9.00" height="7.96" fill="#000"/>
<rect x="230.10" y="229.84" width="9.00" height="7.96" fill="#000"/>
<rect x="238.10" y="229.84" width="9.00" height="7.96" fill="#000"/>
<rect x="246.10" y="229.84" width="8.00" height="7.96" fill="#000"/>
<rect x="214.50" y="198.40" width="39.20" height="39.00" fill="none" stroke="#000" stroke-opacity="0.4" stroke-width="0.9"/>
<rect x="263.40" y="198.00" width="9.00" height="8.96" fill="#ebeb99"/>
<rect x="271.40" y="198.00" width="9.00" height="8.96" fill="#e6db63"/>
<rect x="279.40" y="198.00" width="9.00" height="8.96" fill="#e6bd18"/>
<rect x="287.40" y="198.00" width="9.00" height="8.96" fill="#e6bd18"/>
<rect x="295.40" y="198.00" width="8.00" height="8.96" fill="#e6af13"/>
<rect x="263.40" y="205.96" width="9.00" height="8.96" fill="#f2f2bd"/>
<rect x="271.40" y="205.96" width="9.00" height="8.96" fill="#efefad"/>
<rect x="279.40" y="205.96" width="9.00" height="8.96" fill="#e6d553"/>
<rect x="287.40" y="205.96" width="9.00" height="8.96" fill="#e6bd18"/>
<rect x="295.40" y="205.96" width="8.00" height="8.96" fill="#e6bd18"/>
<rect x="263.40" y="213.92" width="9.00" height="8.96" fill="#f2f2bd"/>
<rect x="271.40" y="213.92" width="9.00" height="8.96" fill="#f2f2bd"/>
<rect x="279.40" y="213.92" width="9.00" height="8.96" fill="#ebeb99"/>
<rect x="287.40" y="213.92" width="9.00" height="8.96" fill="#e6db63"/>
<rect x="295.40" y="213.92" width="8.00" height="8.96" fill="#e6d553"/>
<rect x="263.40" y="221.88" width="9.00" height="8.96" fill="#ebeb99"/>
<rect x="271.40" y="221.88" width="9.00" height="8.96" fill="#efefad"/>
<rect x="279.40" y="221.88" width="9.00" height="8.96" fill="#ebeb99"/>
<rect x="287.40" y="221.88" width="9.00" height="8.96" fill="#ebeb99"/>
<rect x="295.40" y="221.88" width="8.00" height="8.96" fill="#e6db63"/>
<rect x="263.40" y="229.84" width="9.00" height="7.96" fill="#25257a"/>
<rect x="271.40" y="229.84" width="9.00" height="7.96" fill="#ad366e"/>
<rect x="279.40" y="229.84" width="9.00" height="7.96" fill="#be385f"/>
<rect x="287.40" y="229.84" width="9.00" height="7.96" fill="#e68201"/>
<rect x="295.40" y="229.84" width="8.00" height="7.96" fill="#e6a10d"/>
<rect x="263.80" y="198.40" width="39.20" height="39.00" fill="none" stroke="#000" stroke-opacity="0.4" stroke-width="0.9"/>
<rect x="66.20" y="246.00" width="9.00" height="8.96" fill="#e6a810"/>
<rect x="74.20" y="246.00" width="9.00" height="8.96" fill="#e6a810"/>
<rect x="82.20" y="246.00" width="9.00" height="8.96" fill="#e6b616"/>
<rect x="90.20" y="246.00" width="9.00" height="8.96" fill="#e68c05"/>
<rect x="98.20" y="246.00" width="8.00" height="8.96" fill="#e68201"/>
<rect x="66.20" y="253.96" width="9.00" height="8.96" fill="#e6b616"/>
<rect x="74.20" y="253.96" width="9.00" height="8.96" fill="#e6b616"/>
<rect x="82.20" y="253.96" width="9.00" height="8.96" fill="#e6d24a"/>
<rect x="90.20" y="253.96" width="9.00" height="8.96" fill="#e6a810"/>
<rect x="98.20" y="253.96" width="8.00" height="8.96" fill="#e69c0b"/>
<rect x="66.20" y="261.92" width="9.00" height="8.96" fill="#e6b616"/>
<rect x="74.20" y="261.92" width="9.00" height="8.96" fill="#e6b616"/>
<rect x="82.20" y="261.92" width="9.00" height="8.96" fill="#e6b616"/>
<rect x="90.20" y="261.92" width="9.00" height="8.96" fill="#e6a810"/>
<rect x="98.20" y="261.92" width="8.00" height="8.96" fill="#e6a810"/>
<rect x="66.20" y="269.88" width="9.00" height="8.96" fill="#e68703"/>
<rect x="74.20" y="269.88" width="9.00" height="8.96" fill="#e69107"/>
<rect x="82.20" y="269.88" width="9.00" height="8.96" fill="#e68c05"/>
<rect x="90.20" y="269.88" width="9.00" height="8.96" fill="#e69107"/>
<rect x="98.20" y="269.88" width="8.00" height="8.96" fill="#ef690e"/>
<rect x="66.20" y="277.84" width="9.00" height="7.96" fill="#000"/>
<rect x="74.20" y="277.84" width="9.00" height="7.96" fill="#000"/>
<rect x="82.20" y="277.84" width="9.00" height="7.96" fill="#000"/>
<rect x="90.20" y="277.84" width="9.00" height="7.96" fill="#000"/>
<rect x="98.20" y="277.84" width="8.00" height="7.96" fill="#000"/>
<rect x="66.60" y="246.40" width="39.20" height="39.00" fill="none" stroke="#000" stroke-opacity="0.4" stroke-width="0.9"/>
<rect x="115.50" y="246.00" width="9.00" height="8.96" fill="#e6bd18"/>
<rect x="123.50" y="246.00" width="9.00" height="8.96" fill="#e6e173"/>
<rect x="131.50" y="246.00" width="9.00" height="8.96" fill="#e6d553"/>
<rect x="139.50" y="246.00" width="9.00" height="8.96" fill="#e68201"/>
<rect x="147.50" y="246.00" width="8.00" height="8.96" fill="#e68201"/>
<rect x="115.50" y="253.96" width="9.00" height="8.96" fill="#e6bd18"/>
<rect x="123.50" y="253.96" width="9.00" height="8.96" fill="#e6bd18"/>
<rect x="131.50" y="253.96" width="9.00" height="8.96" fill="#efefad"/>
<rect x="139.50" y="253.96" width="9.00" height="8.96" fill="#e6bd18"/>
<rect x="147.50" y="253.96" width="8.00" height="8.96" fill="#e69609"/>
<rect x="115.50" y="261.92" width="9.00" height="8.96" fill="#e6af13"/>
<rect x="123.50" y="261.92" width="9.00" height="8.96" fill="#e6e173"/>
<rect x="131.50" y="261.92" width="9.00" height="8.96" fill="#efefad"/>
<rect x="139.50" y="261.92" width="9.00" height="8.96" fill="#ebeb99"/>
<rect x="147.50" y="261.92" width="8.00" height="8.96" fill="#e6bd18"/>
<rect x="115.50" y="269.88" width="9.00" height="8.96" fill="#e6bd18"/>
<rect x="123.50" y="269.88" width="9.00" height="8.96" fill="#e6bd18"/>
<rect x="131.50" y="269.88" width="9.00" height="8.96" fill="#e6db63"/>
<rect x="139.50" y="269.88" width="9.00" height="8.96" fill="#ebeb99"/>
<rect x="147.50" y="269.88" width="8.00" height="8.96" fill="#efefad"/>
<rect x="115.50" y="277.84" width="9.00" height="7.96" fill="#000"/>
<rect x="123.50" y="277.84" width="9.00" height="7.96" fill="#000"/>
<rect x="131.50" y="277.84" width="9.00" height="7.96" fill="#000"/>
<rect x="139.50" y="277.84" width="9.00" height="7.96" fill="#000"/>
<rect x="147.50" y="277.84" width="8.00" height="7.96" fill="#000"/>
<rect x="115.90" y="246.40" width="39.20" height="39.00" fill="none" stroke="#000" stroke-opacity="0.4" stroke-width="0.9"/>
<rect x="164.80" y="246.00" width="9.00" height="8.96" fill="#e6e173"/>
<rect x="172.80" y="246.00" width="9.00" height="8.96" fill="#ebeb99"/>
<rect x="180.80" y="246.00" width="9.00" height="8.96" fill="#e6d553"/>
<rect x="188.80" y="246.00" width="9.00" height="8.96" fill="#e6bd18"/>
<rect x="196.80" y="246.00" width="8.00" height="8.96" fill="#e6af13"/>
<rect x="164.80" y="253.96" width="9.00" height="8.96" fill="#ebeb99"/>
<rect x="172.80" y="253.96" width="9.00" height="8.96" fill="#efefad"/>
<rect x="180.80" y="253.96" width="9.00" height="8.96" fill="#ebeb99"/>
<rect x="188.80" y="253.96" width="9.00" height="8.96" fill="#e6d553"/>
<rect x="196.80" y="253.96" width="8.00" height="8.96" fill="#e6bd18"/>
<rect x="164.80" y="261.92" width="9.00" height="8.96" fill="#ebeb99"/>
<rect x="172.80" y="261.92" width="9.00" height="8.96" fill="#efefad"/>
<rect x="180.80" y="261.92" width="9.00" height="8.96" fill="#efefad"/>
<rect x="188.80" y="261.92" width="9.00" height="8.96" fill="#f2f2bd"/>
<rect x="196.80" y="261.92" width="8.00" height="8.96" fill="#e6d553"/>
<rect x="164.80" y="269.88" width="9.00" height="8.96" fill="#e6e173"/>
<rect x="172.80" y="269.88" width="9.00" height="8.96" fill="#e6e173"/>
<rect x="180.80" y="269.88" width="9.00" height="8.96" fill="#ebeb99"/>
<rect x="188.80" y="269.88" width="9.00" height="8.96" fill="#efefad"/>
<rect x="196.80" y="269.88" width="8.00" height="8.96" fill="#f2f2bd"/>
<rect x="164.80" y="277.84" width="9.00" height="7.96" fill="#000"/>
<rect x="172.80" y="277.84" width="9.00" height="7.96" fill="#000"/>
<rect x="180.80" y="277.84" width="9.00" height="7.96" fill="#000"/>
<rect x="188.80" y="277.84" width="9.00" height="7.96" fill="#000"/>
<rect x="196.80" y="277.84" width="8.00" height="7.96" fill="#000"/>
<rect x="165.20" y="246.40" width="39.20" height="39.00" fill="none" stroke="#000" stroke-opacity="0.4" stroke-width="0.9"/>
<rect x="214.10" y="246.00" width="9.00" height="8.96" fill="#ebeb99"/>
<rect x="222.10" y="246.00" width="9.00" height="8.96" fill="#ebeb99"/>
<rect x="230.10" y="246.00" width="9.00" height="8.96" fill="#e6bd18"/>
<rect x="238.10" y="246.00" width="9.00" height="8.96" fill="#e6af13"/>
<rect x="246.10" y="246.00" width="8.00" height="8.96" fill="#e6a10d"/>
<rect x="214.10" y="253.96" width="9.00" height="8.96" fill="#efefad"/>
<rect x="222.10" y="253.96" width="9.00" height="8.96" fill="#ebeb99"/>
<rect x="230.10" y="253.96" width="9.00" height="8.96" fill="#e6e173"/>
<rect x="238.10" y="253.96" width="9.00" height="8.96" fill="#e6d553"/>
<rect x="246.10" y="253.96" width="8.00" height="8.96" fill="#e6bd18"/>
<rect x="214.10" y="261.92" width="9.00" height="8.96" fill="#ebeb99"/>
<rect x="222.10" y="261.92" width="9.00" height="8.96" fill="#efefad"/>
<rect x="230.10" y="261.92" width="9.00" height="8.96" fill="#f2f2bd"/>
<rect x="238.10" y="261.92" width="9.00" height="8.96" fill="#f2f2bd"/>
<rect x="246.10" y="261.92" width="8.00" height="8.96" fill="#e6d553"/>
<rect x="214.10" y="269.88" width="9.00" height="8.96" fill="#e6e173"/>
<rect x="222.10" y="269.88" width="9.00" height="8.96" fill="#ebeb99"/>
<rect x="230.10" y="269.88" width="9.00" height="8.96" fill="#efefad"/>
<rect x="238.10" y="269.88" width="9.00" height="8.96" fill="#f2f2bd"/>
<rect x="246.10" y="269.88" width="8.00" height="8.96" fill="#f2f2bd"/>
<rect x="214.10" y="277.84" width="9.00" height="7.96" fill="#000"/>
<rect x="222.10" y="277.84" width="9.00" height="7.96" fill="#000"/>
<rect x="230.10" y="277.84" width="9.00" height="7.96" fill="#000"/>
<rect x="238.10" y="277.84" width="9.00" height="7.96" fill="#000"/>
<rect x="246.10" y="277.84" width="8.00" height="7.96" fill="#000"/>
<rect x="214.50" y="246.40" width="39.20" height="39.00" fill="none" stroke="#000" stroke-opacity="0.4" stroke-width="0.9"/>
<rect x="263.40" y="246.00" width="9.00" height="8.96" fill="#ebeb99"/>
<rect x="271.40" y="246.00" width="9.00" height="8.96" fill="#ebeb99"/>
<rect x="279.40" y="246.00" width="9.00" height="8.96" fill="#e6bd18"/>
<rect x="287.40" y="246.00" width="9.00" height="8.96" fill="#e6bd18"/>
<rect x="295.40" y="246.00" width="8.00" height="8.96" fill="#e6af13"/>
<rect x="263.40" y="253.96" width="9.00" height="8.96" fill="#efefad"/>
<rect x="271.40" y="253.96" width="9.00" height="8.96" fill="#efefad"/>
<rect x="279.40" y="253.96" width="9.00" height="8.96" fill="#e6db63"/>
<rect x="287.40" y="253.96" width="9.00" height="8.96" fill="#e6bd18"/>
<rect x="295.40" y="253.96" width="8.00" height="8.96" fill="#e6bd18"/>
<rect x="263.40" y="261.92" width="9.00" height="8.96" fill="#efefad"/>
<rect x="271.40" y="261.92" width="9.00" height="8.96" fill="#f2f2bd"/>
<rect x="279.40" y="261.92" width="9.00" height="8.96" fill="#ebeb99"/>
<rect x="287.40" y="261.92" width="9.00" height="8.96" fill="#e6db63"/>
<rect x="295.40" y="261.92" width="8.00" height="8.96" fill="#e6d553"/>
<rect x="263.40" y="269.88" width="9.00" height="8.96" fill="#e6e173"/>
<rect x="271.40" y="269.88" width="9.00" height="8.96" fill="#ebeb99"/>
<rect x="279.40" y="269.88" width="9.00" height="8.96" fill="#ebeb99"/>
<rect x="287.40" y="269.88" width="9.00" height="8.96" fill="#ebeb99"/>
<rect x="295.40" y="269.88" width="8.00" height="8.96" fill="#e6e173"/>
<rect x="263.40" y="277.84" width="9.00" height="7.96" fill="#060614"/>
<rect x="271.40" y="277.84" width="9.00" height="7.96" fill="#903187"/>
<rect x="279.40" y="277.84" width="9.00" height="7.96" fill="#842f91"/>
<rect x="287.40" y="277.84" width="9.00" height="7.96" fill="#be385f"/>
<rect x="295.40" y="277.84" width="8.00" height="7.96" fill="#e68201"/>
<rect x="263.80" y="246.40" width="39.20" height="39.00" fill="none" stroke="#000" stroke-opacity="0.4" stroke-width="0.9"/>
<line x1="86.20" y1="48.5" x2="86.20" y2="54" stroke="#000" stroke-width="1.3"/>
<line x1="135.50" y1="48.5" x2="135.50" y2="54" stroke="#000" stroke-width="1.3"/>
<line x1="184.80" y1="48.5" x2="184.80" y2="54" stroke="#000" stroke-width="1.3"/>
<line x1="234.10" y1="48.5" x2="234.10" y2="54" stroke="#000" stroke-width="1.3"/>
<line x1="283.40" y1="48.5" x2="283.40" y2="54" stroke="#000" stroke-width="1.3"/>
<line x1="303.40" y1="73.90" x2="308.5" y2="73.90" stroke="#000" stroke-width="1.3"/>
<line x1="303.40" y1="121.90" x2="308.5" y2="121.90" stroke="#000" stroke-width="1.3"/>
<line x1="303.40" y1="169.90" x2="308.5" y2="169.90" stroke="#000" stroke-width="1.3"/>
<line x1="303.40" y1="217.90" x2="308.5" y2="217.90" stroke="#000" stroke-width="1.3"/>
<line x1="303.40" y1="265.90" x2="308.5" y2="265.90" stroke="#000" stroke-width="1.3"/>
<circle cx="184.5" cy="129.6" r="3.45" fill="#e0483a" stroke="#f4b49a" stroke-width="0.5"/>
<circle cx="192.6" cy="129.6" r="3.45" fill="#e0483a" stroke="#f4b49a" stroke-width="0.5"/>
<polygon points="233.80,123.10 235.56,127.67 240.46,127.94 236.65,131.03 237.91,135.76 233.80,133.10 229.69,135.76 230.95,131.03 227.14,127.94 232.04,127.67" fill="#e0483a" stroke="#f4b49a" stroke-width="0.5" stroke-linejoin="miter"/>
<circle cx="192.3" cy="177.6" r="3.45" fill="#e0483a" stroke="#f4b49a" stroke-width="0.5"/>
<circle cx="233.7" cy="177.6" r="3.45" fill="#e0483a" stroke="#f4b49a" stroke-width="0.5"/>
<circle cx="241.7" cy="177.6" r="3.45" fill="#e0483a" stroke="#f4b49a" stroke-width="0.5"/>
<circle cx="184.6" cy="217.5" r="3.45" fill="#e0483a" stroke="#f4b49a" stroke-width="0.5"/>
<circle cx="234.0" cy="217.5" r="3.45" fill="#e0483a" stroke="#f4b49a" stroke-width="0.5"/>
<circle cx="241.7" cy="225.4" r="3.45" fill="#e0483a" stroke="#f4b49a" stroke-width="0.5"/>
<circle cx="241.7" cy="273.2" r="3.45" fill="#e0483a" stroke="#f4b49a" stroke-width="0.5"/>
<polyline points="52.7,126 61.9,152.5 66,152.5" fill="none" stroke="#000" stroke-width="1.2"/>
<polyline points="52.7,148 63.9,159.2 66,159.2" fill="none" stroke="#000" stroke-width="1.2"/>
<polyline points="53.3,169 66,169" fill="none" stroke="#000" stroke-width="1.2"/>
<polyline points="53.0,189.6 61.5,179.2 66,179.2" fill="none" stroke="#000" stroke-width="1.2"/>
<polyline points="53.2,211.0 60.8,186.9 66,186.9" fill="none" stroke="#000" stroke-width="1.2"/>
<polyline points="168.1,285 168.1,289.5 94.2,296.6" fill="none" stroke="#000" stroke-width="1.2"/>
<polyline points="178.2,285 178.2,289.8 149,296.4" fill="none" stroke="#000" stroke-width="1.2"/>
<polyline points="186.3,285 186.3,296.2" fill="none" stroke="#000" stroke-width="1.2"/>
<polyline points="194.7,285 194.7,289.5 227.2,296.6" fill="none" stroke="#000" stroke-width="1.2"/>
<polyline points="202.6,285 202.6,289.5 267.7,296.6" fill="none" stroke="#000" stroke-width="1.2"/>
<defs><linearGradient id="cb" x1="0" y1="1" x2="0" y2="0">
<stop offset="0.000" stop-color="#0c0c29"/>
<stop offset="0.025" stop-color="#131341"/>
<stop offset="0.050" stop-color="#1a1a58"/>
<stop offset="0.075" stop-color="#222270"/>
<stop offset="0.100" stop-color="#292684"/>
<stop offset="0.125" stop-color="#30268f"/>
<stop offset="0.150" stop-color="#37269b"/>
<stop offset="0.175" stop-color="#3e26a7"/>
<stop offset="0.200" stop-color="#4526b3"/>
<stop offset="0.225" stop-color="#4c26bf"/>
<stop offset="0.250" stop-color="#5a29b4"/>
<stop offset="0.275" stop-color="#682ba8"/>
<stop offset="0.300" stop-color="#772d9c"/>
<stop offset="0.325" stop-color="#853090"/>
<stop offset="0.350" stop-color="#933284"/>
<stop offset="0.375" stop-color="#a43476"/>
<stop offset="0.400" stop-color="#b73765"/>
<stop offset="0.425" stop-color="#ca3954"/>
<stop offset="0.450" stop-color="#dd3c44"/>
<stop offset="0.475" stop-color="#f03e33"/>
<stop offset="0.500" stop-color="#fe4225"/>
<stop offset="0.525" stop-color="#f94e1e"/>
<stop offset="0.550" stop-color="#f45a16"/>
<stop offset="0.575" stop-color="#f0660f"/>
<stop offset="0.600" stop-color="#eb7208"/>
<stop offset="0.625" stop-color="#e67e01"/>
<stop offset="0.650" stop-color="#e68904"/>
<stop offset="0.675" stop-color="#e69509"/>
<stop offset="0.700" stop-color="#e6a10d"/>
<stop offset="0.725" stop-color="#e6ad12"/>
<stop offset="0.750" stop-color="#e6b917"/>
<stop offset="0.775" stop-color="#e6c322"/>
<stop offset="0.800" stop-color="#e6ca35"/>
<stop offset="0.825" stop-color="#e6d148"/>
<stop offset="0.850" stop-color="#e6d85b"/>
<stop offset="0.875" stop-color="#e6df6e"/>
<stop offset="0.900" stop-color="#e6e682"/>
<stop offset="0.925" stop-color="#ebeb99"/>
<stop offset="0.950" stop-color="#efefb1"/>
<stop offset="0.975" stop-color="#f4f4c9"/>
<stop offset="1.000" stop-color="#f9f9e0"/>
</linearGradient></defs>
<rect x="35.6" y="263.2" width="10" height="69.6" fill="url(#cb)" stroke="#000" stroke-width="0.8" stroke-opacity="0.55"/>
<line x1="29.9" y1="263.5" x2="35.5" y2="263.5" stroke="#000" stroke-width="1.2"/>
<line x1="29.9" y1="298.1" x2="35.5" y2="298.1" stroke="#000" stroke-width="1.2"/>
<line x1="29.9" y1="332.8" x2="35.5" y2="332.8" stroke="#000" stroke-width="1.2"/>
<text transform="translate(12.43,17.50) scale(0.9845,1)" font-family='"Liberation Sans", sans-serif' font-size="23.043" font-weight="bold" fill="#000" >A</text>
<text transform="translate(376.86,17.50) scale(0.9604,1)" font-family='"Liberation Sans", sans-serif' font-size="23.043" font-weight="bold" fill="#000" >B</text>
<text transform="translate(376.80,145.50) scale(0.9758,1)" font-family='"Liberation Sans", sans-serif' font-size="23.000" font-weight="bold" fill="#000" >C</text>
<rect x="119.00" y="12.45" width="13.20" height="1.70" fill="#000"/>
<rect x="124.75" y="7.00" width="1.70" height="12.60" fill="#000"/>
<text transform="translate(135.36,20.20) scale(1.1067,1)" font-family='"Liberation Sans", sans-serif' font-size="22.759" fill="#000" stroke="#000" stroke-width="0.22" >pred</text>
<rect x="195.50" y="12.45" width="13.40" height="1.70" fill="#000"/>
<rect x="201.35" y="7.00" width="1.70" height="12.60" fill="#000"/>
<text transform="translate(212.43,20.20) scale(1.0341,1)" font-family='"Liberation Sans", sans-serif' font-size="23.333" fill="#000" stroke="#000" stroke-width="0.22" >rew</text>
<text transform="translate(67.54,43.40) scale(1.0421,1)" font-family='"Liberation Sans", sans-serif' font-size="20.429" fill="#000" stroke="#000" stroke-width="0.22" >-0.1</text>
<text transform="translate(110.55,43.40) scale(1.0327,1)" font-family='"Liberation Sans", sans-serif' font-size="20.429" fill="#000" stroke="#000" stroke-width="0.22" >-0.01</text>
<text transform="translate(169.21,43.40) scale(1.0870,1)" font-family='"Liberation Sans", sans-serif' font-size="20.429" fill="#000" stroke="#000" stroke-width="0.22" >0.0</text>
<text transform="translate(212.24,43.40) scale(1.0501,1)" font-family='"Liberation Sans", sans-serif' font-size="20.429" fill="#000" stroke="#000" stroke-width="0.22" >0.01</text>
<text transform="translate(267.96,43.40) scale(1.0278,1)" font-family='"Liberation Sans", sans-serif' font-size="20.429" fill="#000" stroke="#000" stroke-width="0.22" >0.1</text>
<text transform="translate(318.33,79.50) scale(1.0606,1)" font-family='"Liberation Sans", sans-serif' font-size="20.429" fill="#000" stroke="#000" stroke-width="0.22" >0</text>
<text transform="translate(311.81,127.30) scale(0.9658,1)" font-family='"Liberation Sans", sans-serif' font-size="20.580" fill="#000" stroke="#000" stroke-width="0.22" >-1</text>
<text transform="translate(311.77,175.30) scale(1.0169,1)" font-family='"Liberation Sans", sans-serif' font-size="20.286" fill="#000" stroke="#000" stroke-width="0.22" >-2</text>
<text transform="translate(311.79,223.30) scale(0.9920,1)" font-family='"Liberation Sans", sans-serif' font-size="20.286" fill="#000" stroke="#000" stroke-width="0.22" >-3</text>
<text transform="translate(311.78,271.30) scale(0.9957,1)" font-family='"Liberation Sans", sans-serif' font-size="20.580" fill="#000" stroke="#000" stroke-width="0.22" >-4</text>
<rect x="339.20" y="222.85" width="13.60" height="1.70" fill="#000"/>
<rect x="345.15" y="217.00" width="1.70" height="13.40" fill="#000"/>
<text transform="translate(353.10,213.41) rotate(-90) scale(1.0582,1)" font-family='"Liberation Sans", sans-serif' font-size="23.448" fill="#000" stroke="#000" stroke-width="0.22" >pred</text>
<rect x="345.15" y="148.00" width="1.70" height="6.60" fill="#000"/>
<text transform="translate(353.10,147.17) rotate(-90) scale(1.0593,1)" font-family='"Liberation Sans", sans-serif' font-size="22.778" fill="#000" stroke="#000" stroke-width="0.22" >rew</text>
<rect x="15.15" y="224.00" width="1.70" height="7.00" fill="#000"/>
<text transform="translate(23.50,224.33) rotate(-90) scale(1.0594,1)" font-family='"Liberation Sans", sans-serif' font-size="23.724" fill="#000" stroke="#000" stroke-width="0.22" >pred</text>
<rect x="9.30" y="157.00" width="13.70" height="1.70" fill="#000"/>
<rect x="15.30" y="151.10" width="1.70" height="13.50" fill="#000"/>
<text transform="translate(23.50,147.38) rotate(-90) scale(1.0479,1)" font-family='"Liberation Sans", sans-serif' font-size="23.148" fill="#000" stroke="#000" stroke-width="0.22" >rew</text>
<text transform="translate(31.34,131.00) scale(1.0883,1)" font-family='"Liberation Sans", sans-serif' font-size="16.714" fill="#000" stroke="#000" stroke-width="0.22" >16</text>
<text transform="translate(31.32,152.30) scale(1.0994,1)" font-family='"Liberation Sans", sans-serif' font-size="16.714" fill="#000" stroke="#000" stroke-width="0.22" >12</text>
<text transform="translate(40.52,173.50) scale(1.1915,1)" font-family='"Liberation Sans", sans-serif' font-size="16.429" fill="#000" stroke="#000" stroke-width="0.22" >8</text>
<text transform="translate(41.01,194.80) scale(1.0798,1)" font-family='"Liberation Sans", sans-serif' font-size="17.971" fill="#000" stroke="#000" stroke-width="0.22" >4</text>
<text transform="translate(41.02,216.60) scale(1.1236,1)" font-family='"Liberation Sans", sans-serif' font-size="17.429" fill="#000" stroke="#000" stroke-width="0.22" >0</text>
<text transform="translate(4.31,268.60) scale(1.0718,1)" font-family='"Liberation Sans", sans-serif' font-size="20.571" fill="#000" stroke="#000" stroke-width="0.22" >96</text>
<text transform="translate(4.30,303.40) scale(1.0813,1)" font-family='"Liberation Sans", sans-serif' font-size="20.571" fill="#000" stroke="#000" stroke-width="0.22" >88</text>
<text transform="translate(4.30,338.50) scale(1.0633,1)" font-family='"Liberation Sans", sans-serif' font-size="21.000" fill="#000" stroke="#000" stroke-width="0.22" >80</text>
<text transform="translate(76.96,312.30) scale(1.0603,1)" font-family='"Liberation Sans", sans-serif' font-size="17.536" fill="#000" stroke="#000" stroke-width="0.22" >-1.5</text>
<text transform="translate(115.06,312.30) scale(1.0806,1)" font-family='"Liberation Sans", sans-serif' font-size="17.286" fill="#000" stroke="#000" stroke-width="0.22" >-0.75</text>
<text transform="translate(163.16,312.30) scale(1.0806,1)" font-family='"Liberation Sans", sans-serif' font-size="17.286" fill="#000" stroke="#000" stroke-width="0.22" >-0.25</text>
<text transform="translate(212.59,312.30) scale(1.0399,1)" font-family='"Liberation Sans", sans-serif' font-size="17.286" fill="#000" stroke="#000" stroke-width="0.22" >-0.1</text>
<text transform="translate(251.70,312.30) scale(1.0300,1)" font-family='"Liberation Sans", sans-serif' font-size="17.286" fill="#000" stroke="#000" stroke-width="0.22" >-0.0</text>
<rect x="128.90" y="327.05" width="6.30" height="1.70" fill="#000"/>
<text transform="translate(135.36,334.20) scale(1.0935,1)" font-family='"Liberation Sans", sans-serif' font-size="23.034" fill="#000" stroke="#000" stroke-width="0.22" >pred</text>
<rect x="194.80" y="327.15" width="6.50" height="1.70" fill="#000"/>
<text transform="translate(201.41,334.20) scale(1.0851,1)" font-family='"Liberation Sans", sans-serif' font-size="22.593" fill="#000" stroke="#000" stroke-width="0.22" >rew</text>
<polygon points="425.20,34.30 425.20,29.20 428.10,29.20 428.10,25.80 430.20,25.80 430.20,20.10 433.00,20.10 433.00,24.60 437.20,24.60 437.20,29.20 442.10,29.20 442.10,26.10 444.40,26.10 444.40,20.20 447.00,20.20 447.00,28.80 449.00,28.80 449.00,29.40 454.60,29.40 454.60,20.50 459.10,20.50 459.10,29.60 466.70,29.60 466.70,30.00 471.60,30.00 471.60,24.30 475.80,24.30 475.80,27.70 477.00,27.70 477.00,34.30" fill="#000" stroke="#000" stroke-width="0.5" stroke-linejoin="round"/>
<rect x="463.3" y="33" width="2.3" height="4.2" fill="#000"/>
<polygon points="486.60,36.20 486.60,28.00 491.70,28.00 491.70,31.60 493.50,31.60 493.50,33.80 494.60,33.80 494.60,28.00 496.70,28.00 496.70,26.80 501.30,26.80 501.30,31.30 502.00,31.30 502.00,33.80 504.00,33.80 504.00,28.40 512.00,28.40 512.00,30.30 514.00,30.30 514.00,31.00 526.00,31.00 526.00,32.20 531.00,32.20 531.00,30.00 533.00,30.00 533.00,26.40 537.70,26.40 537.70,36.20" fill="#000" stroke="#000" stroke-width="0.5" stroke-linejoin="round"/>
<rect x="514.5" y="35" width="2.5" height="4.3" fill="#000"/>
<polygon points="547.40,33.80 547.40,30.60 555.60,30.60 555.60,28.60 559.50,28.60 559.50,30.60 562.00,30.60 562.00,24.80 564.00,24.80 564.00,16.40 570.00,16.40 570.00,9.80 573.90,9.80 573.90,14.20 575.00,14.20 575.00,21.90 578.00,21.90 578.00,20.00 581.00,20.00 581.00,25.70 589.00,25.70 589.00,29.10 591.00,29.10 591.00,29.60 598.20,29.60 598.20,33.80" fill="#000" stroke="#000" stroke-width="0.5" stroke-linejoin="round"/>
<polygon points="609.10,34.30 609.10,30.00 613.70,30.00 613.70,26.10 617.30,26.10 617.30,30.00 620.50,30.00 620.50,29.00 624.00,29.00 624.00,30.60 627.00,30.60 627.00,30.00 629.00,30.00 629.00,31.90 641.70,31.90 641.70,30.00 646.80,30.00 646.80,28.70 650.00,28.70 650.00,26.10 653.30,26.10 653.30,28.70 657.00,28.70 657.00,24.50 660.40,24.50 660.40,34.30" fill="#000" stroke="#000" stroke-width="0.5" stroke-linejoin="round"/>
<rect x="638.8" y="33" width="2.7" height="4.4" fill="#000"/>
<circle cx="430" cy="68" r="1.55" fill="#000"/>
<circle cx="428.5" cy="68" r="1.55" fill="#000"/>
<circle cx="431.7" cy="72.6" r="1.55" fill="#000"/>
<circle cx="431.1" cy="74.4" r="1.55" fill="#000"/>
<circle cx="439.9" cy="72" r="1.55" fill="#000"/>
<circle cx="445.1" cy="72" r="1.55" fill="#000"/>
<circle cx="446.9" cy="68" r="1.55" fill="#000"/>
<circle cx="448.5" cy="68" r="1.55" fill="#000"/>
<circle cx="451" cy="72" r="1.55" fill="#000"/>
<circle cx="455.1" cy="72" r="1.55" fill="#000"/>
<circle cx="455.7" cy="68" r="1.55" fill="#000"/>
<circle cx="460.4" cy="71.5" r="1.55" fill="#000"/>
<circle cx="463" cy="68.3" r="1.55" fill="#000"/>
<circle cx="471.5" cy="75" r="1.55" fill="#000"/>
<circle cx="437.5" cy="78.5" r="1.55" fill="#000"/>
<circle cx="435.8" cy="81.4" r="1.55" fill="#000"/>
<circle cx="458" cy="77.9" r="1.55" fill="#000"/>
<circle cx="455.1" cy="82" r="1.55" fill="#000"/>
<circle cx="430" cy="84.7" r="1.55" fill="#000"/>
<circle cx="437.5" cy="87.2" r="1.55" fill="#000"/>
<circle cx="426.4" cy="93.7" r="1.55" fill="#000"/>
<circle cx="445.7" cy="94" r="1.55" fill="#000"/>
<circle cx="458" cy="96.6" r="1.55" fill="#000"/>
<circle cx="472.8" cy="96.8" r="1.55" fill="#000"/>
<circle cx="428.8" cy="100.3" r="1.55" fill="#000"/>
<circle cx="431.1" cy="100.8" r="1.55" fill="#000"/>
<circle cx="431.1" cy="103.8" r="1.55" fill="#000"/>
<circle cx="434" cy="106.1" r="1.55" fill="#000"/>
<circle cx="435.8" cy="110.2" r="1.55" fill="#000"/>
<circle cx="434.6" cy="113.1" r="1.55" fill="#000"/>
<circle cx="445.3" cy="100.3" r="1.55" fill="#000"/>
<circle cx="447.5" cy="100.3" r="1.55" fill="#000"/>
<circle cx="442.8" cy="103.8" r="1.55" fill="#000"/>
<circle cx="445.1" cy="106.5" r="1.55" fill="#000"/>
<circle cx="455.1" cy="100.3" r="1.55" fill="#000"/>
<circle cx="456.8" cy="103.4" r="1.55" fill="#000"/>
<circle cx="453.9" cy="106.5" r="1.55" fill="#000"/>
<circle cx="469.7" cy="100.3" r="1.55" fill="#000"/>
<circle cx="473.8" cy="106.7" r="1.55" fill="#000"/>
<circle cx="466.2" cy="109.6" r="1.55" fill="#000"/>
<circle cx="475" cy="109.6" r="1.55" fill="#000"/>
<circle cx="473.8" cy="112.5" r="1.55" fill="#000"/>
<circle cx="428.2" cy="116" r="1.55" fill="#000"/>
<circle cx="428.2" cy="119.6" r="1.55" fill="#000"/>
<circle cx="431.1" cy="119.6" r="1.55" fill="#000"/>
<circle cx="441" cy="116" r="1.55" fill="#000"/>
<circle cx="444.6" cy="116" r="1.55" fill="#000"/>
<circle cx="439.3" cy="119.6" r="1.55" fill="#000"/>
<circle cx="442.8" cy="119.6" r="1.55" fill="#000"/>
<circle cx="436.4" cy="126.3" r="1.55" fill="#000"/>
<circle cx="452.7" cy="122.8" r="1.55" fill="#000"/>
<circle cx="457.4" cy="119.6" r="1.55" fill="#000"/>
<circle cx="457.4" cy="123" r="1.55" fill="#000"/>
<circle cx="460.4" cy="122.8" r="1.55" fill="#000"/>
<circle cx="456.8" cy="126.3" r="1.55" fill="#000"/>
<circle cx="475.6" cy="119.3" r="1.55" fill="#000"/>
<circle cx="512.9" cy="65.6" r="1.55" fill="#000"/>
<circle cx="498.5" cy="68.5" r="1.55" fill="#000"/>
<circle cx="507.8" cy="68.5" r="1.55" fill="#000"/>
<circle cx="505.5" cy="71.8" r="1.55" fill="#000"/>
<circle cx="523" cy="71.1" r="1.55" fill="#000"/>
<circle cx="487" cy="75" r="1.55" fill="#000"/>
<circle cx="488.3" cy="78.1" r="1.55" fill="#000"/>
<circle cx="502.6" cy="75" r="1.55" fill="#000"/>
<circle cx="500.8" cy="78.1" r="1.55" fill="#000"/>
<circle cx="520.7" cy="75" r="1.55" fill="#000"/>
<circle cx="523" cy="78.1" r="1.55" fill="#000"/>
<circle cx="490.3" cy="81.4" r="1.55" fill="#000"/>
<circle cx="498.5" cy="81.7" r="1.55" fill="#000"/>
<circle cx="517.8" cy="81.2" r="1.55" fill="#000"/>
<circle cx="490.9" cy="84.9" r="1.55" fill="#000"/>
<circle cx="517.2" cy="84.9" r="1.55" fill="#000"/>
<circle cx="489.1" cy="88.4" r="1.55" fill="#000"/>
<circle cx="509.6" cy="88.2" r="1.55" fill="#000"/>
<circle cx="535.3" cy="81.2" r="1.55" fill="#000"/>
<circle cx="534.1" cy="84.9" r="1.55" fill="#000"/>
<circle cx="535.3" cy="88.2" r="1.55" fill="#000"/>
<circle cx="499" cy="91.3" r="1.55" fill="#000"/>
<circle cx="506.7" cy="94.3" r="1.55" fill="#000"/>
<circle cx="527.1" cy="90.7" r="1.55" fill="#000"/>
<circle cx="528.9" cy="94.5" r="1.55" fill="#000"/>
<circle cx="492.3" cy="97.5" r="1.55" fill="#000"/>
<circle cx="499" cy="97.4" r="1.55" fill="#000"/>
<circle cx="512" cy="97.3" r="1.55" fill="#000"/>
<circle cx="537" cy="97.3" r="1.55" fill="#000"/>
<circle cx="488.3" cy="101.4" r="1.55" fill="#000"/>
<circle cx="499" cy="104.1" r="1.55" fill="#000"/>
<circle cx="495.5" cy="107.6" r="1.55" fill="#000"/>
<circle cx="495.5" cy="110.8" r="1.55" fill="#000"/>
<circle cx="509.3" cy="110.8" r="1.55" fill="#000"/>
<circle cx="517.8" cy="113.7" r="1.55" fill="#000"/>
<circle cx="533" cy="103.8" r="1.55" fill="#000"/>
<circle cx="532.4" cy="107.3" r="1.55" fill="#000"/>
<circle cx="535.9" cy="110.8" r="1.55" fill="#000"/>
<circle cx="487.9" cy="117.5" r="1.55" fill="#000"/>
<circle cx="498.5" cy="117.2" r="1.55" fill="#000"/>
<circle cx="502.6" cy="120.1" r="1.55" fill="#000"/>
<circle cx="508.6" cy="120.1" r="1.55" fill="#000"/>
<circle cx="505.5" cy="123.1" r="1.55" fill="#000"/>
<circle cx="520.7" cy="120.5" r="1.55" fill="#000"/>
<circle cx="527.1" cy="116.6" r="1.55" fill="#000"/>
<circle cx="537" cy="116.6" r="1.55" fill="#000"/>
<circle cx="492" cy="123.3" r="1.55" fill="#000"/>
<circle cx="496.1" cy="127.2" r="1.55" fill="#000"/>
<circle cx="509.6" cy="126.8" r="1.55" fill="#000"/>
<circle cx="513.7" cy="126.8" r="1.55" fill="#000"/>
<circle cx="533.9" cy="123.1" r="1.55" fill="#000"/>
<circle cx="556.4" cy="65.6" r="1.55" fill="#000"/>
<circle cx="561.6" cy="65" r="1.55" fill="#000"/>
<circle cx="564" cy="65" r="1.55" fill="#000"/>
<circle cx="566.3" cy="65" r="1.55" fill="#000"/>
<circle cx="569.2" cy="65" r="1.55" fill="#000"/>
<circle cx="572.2" cy="65" r="1.55" fill="#000"/>
<circle cx="560.5" cy="68.5" r="1.55" fill="#000"/>
<circle cx="564" cy="68.5" r="1.55" fill="#000"/>
<circle cx="571" cy="68.5" r="1.55" fill="#000"/>
<circle cx="576.8" cy="68" r="1.55" fill="#000"/>
<circle cx="579.8" cy="65" r="1.55" fill="#000"/>
<circle cx="582.7" cy="65" r="1.55" fill="#000"/>
<circle cx="586.8" cy="64.4" r="1.55" fill="#000"/>
<circle cx="584.4" cy="68" r="1.55" fill="#000"/>
<circle cx="567.5" cy="71.5" r="1.55" fill="#000"/>
<circle cx="573.3" cy="70.9" r="1.55" fill="#000"/>
<circle cx="597.3" cy="71.1" r="1.55" fill="#000"/>
<circle cx="565.1" cy="75" r="1.55" fill="#000"/>
<circle cx="570.4" cy="75" r="1.55" fill="#000"/>
<circle cx="576.8" cy="75" r="1.55" fill="#000"/>
<circle cx="587.4" cy="74.6" r="1.55" fill="#000"/>
<circle cx="564" cy="78.1" r="1.55" fill="#000"/>
<circle cx="569.8" cy="78.1" r="1.55" fill="#000"/>
<circle cx="579.2" cy="77.9" r="1.55" fill="#000"/>
<circle cx="567.5" cy="80.8" r="1.55" fill="#000"/>
<circle cx="573.3" cy="80.8" r="1.55" fill="#000"/>
<circle cx="579.2" cy="80.8" r="1.55" fill="#000"/>
<circle cx="562.8" cy="83.5" r="1.55" fill="#000"/>
<circle cx="568.1" cy="83.7" r="1.55" fill="#000"/>
<circle cx="573.9" cy="84" r="1.55" fill="#000"/>
<circle cx="581.5" cy="84.3" r="1.55" fill="#000"/>
<circle cx="555.8" cy="87.5" r="1.55" fill="#000"/>
<circle cx="564.6" cy="87.2" r="1.55" fill="#000"/>
<circle cx="566.3" cy="89.6" r="1.55" fill="#000"/>
<circle cx="570.6" cy="90.2" r="1.55" fill="#000"/>
<circle cx="578.6" cy="89.8" r="1.55" fill="#000"/>
<circle cx="592" cy="87.2" r="1.55" fill="#000"/>
<circle cx="568.1" cy="93.7" r="1.55" fill="#000"/>
<circle cx="592" cy="93.1" r="1.55" fill="#000"/>
<circle cx="592.6" cy="96.2" r="1.55" fill="#000"/>
<circle cx="548.8" cy="99.9" r="1.55" fill="#000"/>
<circle cx="558.1" cy="99.9" r="1.55" fill="#000"/>
<circle cx="571" cy="99.9" r="1.55" fill="#000"/>
<circle cx="572.7" cy="99.9" r="1.55" fill="#000"/>
<circle cx="580.9" cy="99.9" r="1.55" fill="#000"/>
<circle cx="587.4" cy="99.9" r="1.55" fill="#000"/>
<circle cx="566.3" cy="103" r="1.55" fill="#000"/>
<circle cx="573.9" cy="103" r="1.55" fill="#000"/>
<circle cx="578.6" cy="103" r="1.55" fill="#000"/>
<circle cx="584.2" cy="102.6" r="1.55" fill="#000"/>
<circle cx="562.8" cy="106.5" r="1.55" fill="#000"/>
<circle cx="577.4" cy="106.1" r="1.55" fill="#000"/>
<circle cx="565.5" cy="109.6" r="1.55" fill="#000"/>
<circle cx="569.8" cy="109.6" r="1.55" fill="#000"/>
<circle cx="571.6" cy="109.6" r="1.55" fill="#000"/>
<circle cx="576.3" cy="109.6" r="1.55" fill="#000"/>
<circle cx="584.2" cy="109.6" r="1.55" fill="#000"/>
<circle cx="594.4" cy="112.3" r="1.55" fill="#000"/>
<circle cx="566.7" cy="115.8" r="1.55" fill="#000"/>
<circle cx="572.2" cy="115.8" r="1.55" fill="#000"/>
<circle cx="578.6" cy="115.8" r="1.55" fill="#000"/>
<circle cx="562.8" cy="119" r="1.55" fill="#000"/>
<circle cx="564.6" cy="122" r="1.55" fill="#000"/>
<circle cx="570.4" cy="119" r="1.55" fill="#000"/>
<circle cx="573.3" cy="119" r="1.55" fill="#000"/>
<circle cx="569.8" cy="122" r="1.55" fill="#000"/>
<circle cx="572.7" cy="122" r="1.55" fill="#000"/>
<circle cx="576.3" cy="122" r="1.55" fill="#000"/>
<circle cx="580.9" cy="119.3" r="1.55" fill="#000"/>
<circle cx="557" cy="121.9" r="1.55" fill="#000"/>
<circle cx="582.7" cy="122.1" r="1.55" fill="#000"/>
<circle cx="568.1" cy="125.6" r="1.55" fill="#000"/>
<circle cx="571.6" cy="125.6" r="1.55" fill="#000"/>
<circle cx="575.1" cy="125.6" r="1.55" fill="#000"/>
<circle cx="620.8" cy="63.6" r="1.55" fill="#000"/>
<circle cx="626.7" cy="63.6" r="1.55" fill="#000"/>
<circle cx="611.1" cy="67.4" r="1.55" fill="#000"/>
<circle cx="615.4" cy="70.3" r="1.55" fill="#000"/>
<circle cx="613.5" cy="76.7" r="1.55" fill="#000"/>
<circle cx="614.6" cy="80.5" r="1.55" fill="#000"/>
<circle cx="610.5" cy="86.7" r="1.55" fill="#000"/>
<circle cx="618.5" cy="86.7" r="1.55" fill="#000"/>
<circle cx="612.3" cy="92.9" r="1.55" fill="#000"/>
<circle cx="621.6" cy="92.9" r="1.55" fill="#000"/>
<circle cx="652.7" cy="66.8" r="1.55" fill="#000"/>
<circle cx="648" cy="70.3" r="1.55" fill="#000"/>
<circle cx="658.3" cy="79.6" r="1.55" fill="#000"/>
<circle cx="647.4" cy="83.2" r="1.55" fill="#000"/>
<circle cx="653.2" cy="86.3" r="1.55" fill="#000"/>
<circle cx="615" cy="103" r="1.55" fill="#000"/>
<circle cx="616.4" cy="112.8" r="1.55" fill="#000"/>
<circle cx="624.6" cy="116.1" r="1.55" fill="#000"/>
<circle cx="616.2" cy="125.4" r="1.55" fill="#000"/>
<circle cx="657.3" cy="99.9" r="1.55" fill="#000"/>
<circle cx="658.5" cy="102.6" r="1.55" fill="#000"/>
<circle cx="649.4" cy="106.1" r="1.55" fill="#000"/>
<circle cx="655" cy="109.6" r="1.55" fill="#000"/>
<circle cx="657.3" cy="112.6" r="1.55" fill="#000"/>
<circle cx="644.5" cy="116.1" r="1.55" fill="#000"/>
<circle cx="650.9" cy="119" r="1.55" fill="#000"/>
<circle cx="650.6" cy="122.5" r="1.55" fill="#000"/>
<circle cx="642.4" cy="125.4" r="1.55" fill="#000"/>
<clipPath id="r4"><rect x="609.5" y="55" width="52" height="80"/></clipPath>
<circle cx="610" cy="73.2" r="1.55" fill="#000" clip-path="url(#r4)"/>
<circle cx="660.3" cy="70.3" r="1.55" fill="#000" clip-path="url(#r4)"/>
<line x1="424.3" y1="153.60" x2="424.3" y2="291.70" stroke="#000" stroke-width="2.8"/>
<line x1="418.6" y1="154.10" x2="424" y2="154.10" stroke="#000" stroke-width="1.2"/>
<line x1="418.6" y1="199.70" x2="424" y2="199.70" stroke="#000" stroke-width="1.2"/>
<line x1="418.6" y1="245.30" x2="424" y2="245.30" stroke="#000" stroke-width="1.2"/>
<line x1="418.6" y1="290.90" x2="424" y2="290.90" stroke="#000" stroke-width="1.2"/>
<line x1="448.8" y1="149.2" x2="448.8" y2="153.6" stroke="#000" stroke-width="1.2"/>
<line x1="448.8" y1="290.3" x2="448.8" y2="294.7" stroke="#000" stroke-width="1.2"/>
<line x1="510.5" y1="149.2" x2="510.5" y2="153.6" stroke="#000" stroke-width="1.2"/>
<line x1="510.5" y1="290.3" x2="510.5" y2="294.7" stroke="#000" stroke-width="1.2"/>
<line x1="572.2" y1="149.2" x2="572.2" y2="153.6" stroke="#000" stroke-width="1.2"/>
<line x1="572.2" y1="290.3" x2="572.2" y2="294.7" stroke="#000" stroke-width="1.2"/>
<line x1="634.3" y1="149.2" x2="634.3" y2="153.6" stroke="#000" stroke-width="1.2"/>
<line x1="634.3" y1="290.3" x2="634.3" y2="294.7" stroke="#000" stroke-width="1.2"/>
<rect x="425.8" y="243.7" width="3.4" height="2.7" fill="#e34a33"/>
<rect x="429.2" y="243.7" width="44.8" height="2.7" fill="#f99b57"/>
<rect x="443.0" y="243.7" width="0.8" height="2.7" fill="#fbd0a8"/>
<rect x="458.1" y="243.7" width="0.8" height="2.7" fill="#fbd0a8"/>
<rect x="484.6" y="243.9" width="6.4" height="5.4" fill="#e34a33"/>
<rect x="491" y="243.9" width="44.9" height="3.6" fill="#f99b57"/>
<rect x="494" y="247.4" width="12" height="1.7" fill="#f99b57"/>
<rect x="514" y="247.4" width="7" height="1.7" fill="#f99b57"/>
<rect x="524" y="247.4" width="7" height="1.7" fill="#f99b57"/>
<path d="M553.2,198.5 H556.2 V154.6 H568.1 V198.5 H597.7 V245.3 H553.2 Z" fill="#f99b57"/>
<rect x="546.2" y="198.5" width="7.2" height="46.8" fill="#e34a33"/>
<path d="M614.2,243.8 H659.7 V289.7 H653.5 V269.2 H643 V257.8 H639.6 V279.7 H633 V257.8 H629.8 V279.7 H617.5 V268.3 H614.2 Z" fill="#f99b57"/>
<rect x="608.4" y="243.8" width="6.1" height="13.7" fill="#e34a33"/>
<text transform="translate(405.24,159.70) scale(1.0132,1)" font-family='"Liberation Sans", sans-serif' font-size="21.000" fill="#000" stroke="#000" stroke-width="0.22" >8</text>
<text transform="translate(405.09,204.80) scale(1.0125,1)" font-family='"Liberation Sans", sans-serif' font-size="20.145" fill="#000" stroke="#000" stroke-width="0.22" >4</text>
<text transform="translate(405.27,250.70) scale(0.9921,1)" font-family='"Liberation Sans", sans-serif' font-size="21.000" fill="#000" stroke="#000" stroke-width="0.22" >0</text>
<rect x="390.5" y="288.9" width="12.3" height="1.4" fill="#000"/>
<text transform="translate(404.98,295.40) scale(1.0829,1)" font-family='"Liberation Sans", sans-serif' font-size="19.565" fill="#000" stroke="#000" stroke-width="0.22" >4</text>
<text transform="translate(396.30,240.57) rotate(-90) scale(1.0873,1)" font-family='"Liberation Serif", serif' font-size="21.061" font-style="italic" fill="#000" >DA</text>
<rect x="420.10" y="305.05" width="12.60" height="1.70" fill="#000"/>
<rect x="425.55" y="299.80" width="1.70" height="12.20" fill="#000"/>
<text transform="translate(434.57,311.50) scale(1.0989,1)" font-family='"Liberation Sans", sans-serif' font-size="20.000" fill="#000" stroke="#000" stroke-width="0.22" >pred</text>
<rect x="424.80" y="326.65" width="12.40" height="1.70" fill="#000"/>
<rect x="430.15" y="321.70" width="1.70" height="11.60" fill="#000"/>
<text transform="translate(439.10,333.00) scale(1.0358,1)" font-family='"Liberation Sans", sans-serif' font-size="20.741" fill="#000" stroke="#000" stroke-width="0.22" >rew</text>
<rect x="486.50" y="304.95" width="5.50" height="1.70" fill="#000"/>
<text transform="translate(491.87,311.50) scale(1.1016,1)" font-family='"Liberation Sans", sans-serif' font-size="20.000" fill="#000" stroke="#000" stroke-width="0.22" >pred</text>
<rect x="491.30" y="326.85" width="5.50" height="1.70" fill="#000"/>
<text transform="translate(496.30,333.00) scale(1.0389,1)" font-family='"Liberation Sans", sans-serif' font-size="20.741" fill="#000" stroke="#000" stroke-width="0.22" >rew</text>
<rect x="548.50" y="304.95" width="5.50" height="1.70" fill="#000"/>
<text transform="translate(553.86,311.50) scale(1.1043,1)" font-family='"Liberation Sans", sans-serif' font-size="20.000" fill="#000" stroke="#000" stroke-width="0.22" >pred</text>
<rect x="548.50" y="326.65" width="12.20" height="1.70" fill="#000"/>
<rect x="553.75" y="321.70" width="1.70" height="11.60" fill="#000"/>
<text transform="translate(563.22,333.00) scale(1.0265,1)" font-family='"Liberation Sans", sans-serif' font-size="20.741" fill="#000" stroke="#000" stroke-width="0.22" >rew</text>
<rect x="605.80" y="305.05" width="12.20" height="1.70" fill="#000"/>
<rect x="611.05" y="299.80" width="1.70" height="12.20" fill="#000"/>
<text transform="translate(620.46,311.50) scale(1.1070,1)" font-family='"Liberation Sans", sans-serif' font-size="20.000" fill="#000" stroke="#000" stroke-width="0.22" >pred</text>
<rect x="614.40" y="326.85" width="6.20" height="1.70" fill="#000"/>
<text transform="translate(620.19,333.00) scale(1.0483,1)" font-family='"Liberation Sans", sans-serif' font-size="20.741" fill="#000" stroke="#000" stroke-width="0.22" >rew</text>
</svg>
</body></html>
